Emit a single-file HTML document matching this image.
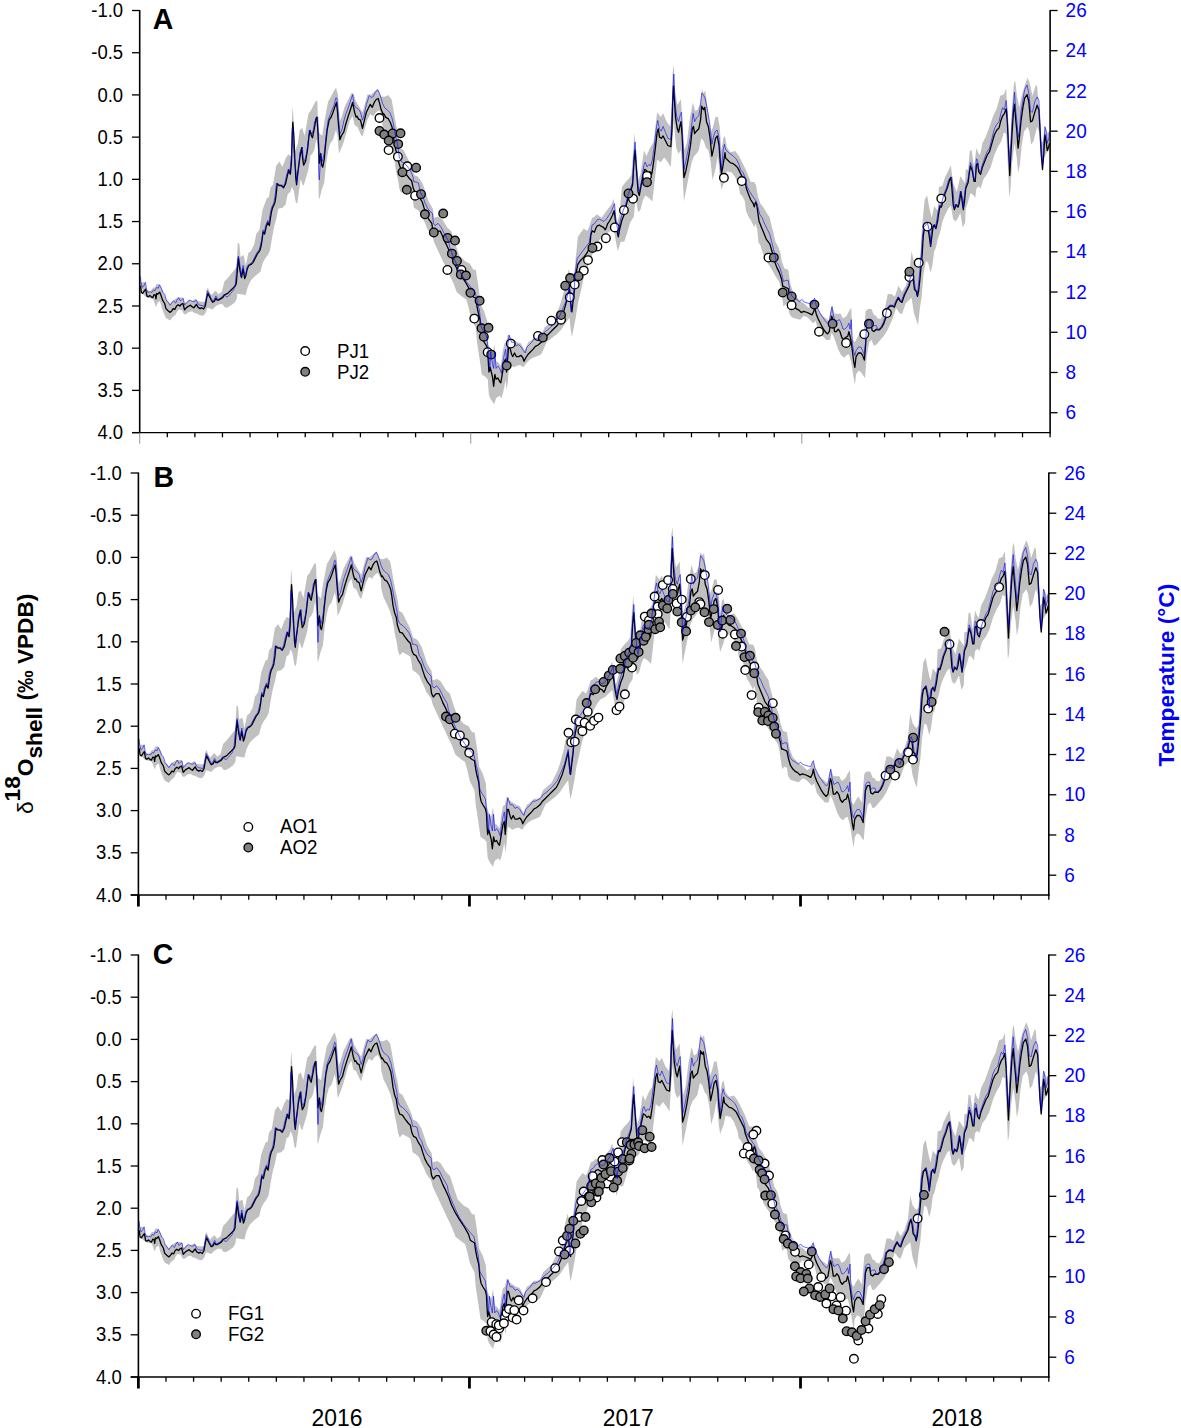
<!DOCTYPE html><html><head><meta charset="utf-8"><style>html,body{margin:0;padding:0;background:#fff;width:1181px;height:1428px;overflow:hidden}svg{display:block}text{font-family:"Liberation Sans",sans-serif}</style></head><body>
<svg width="1181" height="1428" viewBox="0 0 1181 1428">
<path d="M140.5 278.1 L141.39 282.34 L144.77 282.34 L146.47 289.11 L149.85 291.65 L153.24 287.42 L154.93 287.42 L156.63 284.03 L159.17 284.03 L161.29 287.42 L163.4 292.5 L165.94 299.27 L168.48 301.81 L170.18 304.35 L173.56 300.12 L177.8 297.58 L180.34 297.58 L182.88 297.58 L184.57 303.51 L188.8 300.12 L192.19 300.97 L195.58 298.43 L197.27 300.97 L200.66 301.81 L204.89 301.81 L206.59 289.96 L207.86 287.42 L209.97 293.34 L211.67 295.04 L214.21 291.65 L215.9 290.8 L218.44 294.19 L221.83 291.65 L224.37 281.49 L227.75 278.1 L231.14 273.87 L234.53 269.64 L236.3 267.59 L237.87 242.39 L239.45 244.49 L240.5 257.09 L243.65 254.99 L245.75 265.49 L248.37 252.89 L251 250.79 L254.15 244.49 L256.25 233.99 L259.4 229.79 L262.55 209.84 L266.75 198.29 L268.85 197.24 L270.42 187.8 L273.04 184.65 L276.19 165.75 L279.34 161.55 L282.49 166.8 L285.64 158.4 L288.27 154.2 L290.88 156.37 L292.35 106.37 L293.33 116.18 L294.8 151.47 L297.75 143.63 L299.71 129.9 L302.16 127.94 L304.61 135.78 L308.53 113.24 L310.49 111.27 L314.41 103.43 L316.37 100.49 L317.35 101.47 L318.33 130.88 L319.8 133.82 L322.25 135.78 L324.22 122.06 L328.14 101.47 L331.08 96.57 L334.02 90.69 L335.98 87.75 L337.94 94.61 L339.9 121.08 L341.86 116.18 L344.8 106.37 L347.75 100.49 L351.67 92.65 L353.63 93.63 L355.59 100.49 L359.51 107.35 L362.45 112.25 L364.41 105.39 L367.35 94.61 L371.27 94.61 L375.2 90.69 L377.65 88.73 L381.08 96.57 L384.75 96.7 L388.11 95.02 L391.47 98.95 L393.15 107.91 L394.83 117.99 L397.07 129.2 L399.31 139.28 L400.43 148.25 L403.79 150.49 L407.15 157.21 L410.52 163.93 L412.76 169.53 L414.44 175.14 L417.24 176.26 L419.48 178.5 L422.84 184.1 L425.08 190.82 L428.44 200.91 L432.92 208.75 L434.05 217.71 L438.53 216.59 L441.89 218.83 L447.49 227.8 L451.3 231.16 L453.2 237.5 L459.16 255.36 L465.11 261.31 L469.87 263.69 L473.44 269.64 L475.82 269.64 L478.2 285.12 L480.59 304.17 L484.16 311.31 L487.13 320.83 L487.73 330.36 L488.32 344.64 L490.11 350.6 L492.49 354.17 L494.28 344.64 L496.06 361.31 L498.44 362.5 L500.82 366.07 L502.61 351.79 L504.4 343.45 L506.18 342.26 L507.97 333.93 L510.35 337.5 L513.92 339.88 L517.49 342.26 L521.06 343.45 L524.63 350.6 L528.2 342.26 L531.78 339.88 L535.35 336.31 L538.92 336.31 L541.3 335.12 L544.52 327.38 L552.86 320.24 L558.81 308.33 L561.19 301.19 L564.76 288.1 L567.14 276.19 L568.93 269.05 L570.71 276.19 L574.29 272.62 L576.67 248.81 L577.86 236.9 L580.24 233.33 L583.81 228.57 L587.38 230.95 L589.76 225 L592.14 217.86 L594.52 216.67 L596.9 214.29 L601.67 217.86 L606.43 210.71 L611.19 204.76 L613.57 198.81 L615.36 214.29 L617.14 222.62 L619.52 214.29 L621.9 186.9 L625.48 182.14 L629.05 178.57 L631.43 175 L634.52 132.38 L636.31 162.14 L638.1 180 L640.48 174.05 L644.05 150.24 L646.43 156.19 L650 147.86 L653.57 141.9 L657.14 112.14 L660.71 116.9 L663.1 113.33 L666.67 121.67 L670.24 126.43 L671.43 114.52 L672.62 72.86 L673.81 64.52 L675 90.71 L677.38 105 L680.95 99.05 L683.33 138.33 L684.52 150.24 L686.9 141.9 L689.88 118.1 L692.86 102.62 L695.24 110.95 L697.62 109.76 L700.6 102.62 L701.79 89.52 L703.57 93.1 L705.36 90.71 L707.14 105 L710.71 132.38 L713.1 126.43 L715.48 116.9 L717.86 116.9 L719.64 126.43 L721.43 150.24 L723.21 138.33 L725 135.95 L726.9 147.38 L730.48 152.14 L735.24 150.95 L738.81 155.71 L742.38 162.86 L745.95 170 L748.33 175.95 L750.71 181.9 L754.29 181.9 L756.07 185.48 L757.86 196.19 L760.24 203.33 L763.81 208.1 L767.38 214.05 L769.76 217.62 L770.95 223.57 L773.33 231.9 L774.52 237.86 L775.71 242.62 L778.1 246.19 L780.48 253.33 L781.67 260.48 L784.05 267.62 L784.63 268.45 L788.2 269.64 L790.59 285.12 L794.16 294.64 L797.73 298.21 L801.3 301.79 L804.87 304.17 L808.44 307.74 L812.01 305.36 L814.4 298.21 L816.78 306.55 L819.16 311.31 L822.73 316.07 L826.3 318.45 L828.68 320.83 L831.06 308.93 L832.25 306.55 L834.63 313.69 L838.2 313.69 L840.59 313.69 L842.97 318.45 L846.54 316.07 L848.92 311.31 L851.3 307.74 L852.49 338.69 L854.87 342.26 L857.25 337.5 L859.63 333.93 L863.2 339.88 L865.59 311.31 L867.97 308.93 L871.54 308.93 L873.92 314.88 L876.3 316.07 L877.01 317.88 L880.59 319.07 L884.16 311.93 L887.73 294.07 L891.3 294.07 L894.87 296.45 L898.44 285.74 L902.01 291.69 L905.59 285.74 L909.16 275.02 L911.54 251.21 L913.92 260.74 L917.49 265.5 L919.87 263.12 L922.25 225.02 L924.63 200.02 L927.01 195.26 L929.4 208.36 L931.78 217.88 L934.16 205.98 L937.73 210.74 L938.92 186.93 L942.49 185.74 L944.87 177.4 L948.44 170.26 L950.82 165.5 L953.2 183.36 L956.78 191.69 L960.35 176.21 L962.73 179.79 L965.11 183.36 L965.71 169.52 L968.1 169.52 L969.88 150.48 L971.67 150.48 L974.05 167.14 L976.43 148.1 L978.21 152.86 L980 155.24 L982.38 143.33 L985.95 136.19 L989.52 126.67 L993.1 115.95 L996.67 108.81 L1000.24 95.71 L1003.81 94.52 L1006.19 88.57 L1007.98 131.43 L1009.76 152.86 L1012.14 105.24 L1013.93 83.81 L1015.12 80.24 L1016.9 95.71 L1019.29 107.62 L1021.67 95.71 L1025.24 83.81 L1027.62 77.86 L1030 83.81 L1032.38 95.71 L1035.95 85 L1037.14 86.19 L1038.33 101.67 L1040.71 143.33 L1043.1 140.95 L1045.48 126.67 L1047.86 133.81 L1049.3 131.43 L1049.3 148.1 L1049.05 150.48 L1046.67 152.86 L1044.29 157.62 L1042.5 169.52 L1040.71 155.24 L1038.93 131.43 L1037.14 126.67 L1033.57 140.95 L1031.19 144.52 L1029.4 131.43 L1027.62 126.67 L1024.05 131.43 L1021.67 145.71 L1019.88 164.76 L1018.1 173.1 L1016.9 158.81 L1014.52 143.33 L1012.14 162.38 L1010.36 190.95 L1009.17 196.9 L1007.98 167.14 L1006.19 133.81 L1003.81 132.62 L1001.43 140.95 L997.86 146.9 L994.29 155.24 L990.71 167.14 L987.14 174.29 L983.57 179.05 L980.6 188.57 L978.81 186.19 L976.43 188.57 L975.24 198.1 L972.86 194.52 L970.48 193.33 L968.1 201.67 L965.71 208.81 L965.11 222.64 L962.73 227.4 L960.35 213.12 L957.97 217.88 L955.59 221.45 L953.2 219.07 L950.82 205.98 L948.44 208.36 L944.87 215.5 L942.49 221.45 L940.11 232.17 L937.73 239.31 L935.94 247.64 L934.16 251.21 L932.37 265.5 L930.59 272.64 L928.2 263.12 L925.82 260.74 L923.44 275.02 L921.66 296.45 L919.87 308.36 L918.09 325.02 L916.3 320.26 L913.92 313.12 L911.54 297.64 L909.16 300.02 L905.59 303.6 L902.01 314.31 L899.63 313.12 L896.06 308.36 L892.49 319.07 L887.73 329.79 L884.16 335.5 L876.3 344.64 L873.92 345.83 L871.54 339.88 L869.16 342.26 L866.78 356.55 L864.99 377.98 L863.2 375.6 L860.82 372.02 L858.44 370.83 L856.06 374.4 L854.87 385.12 L853.09 374.4 L851.3 362.5 L848.92 354.17 L846.54 355.36 L844.16 357.74 L841.18 355.36 L838.2 349.4 L835.82 342.26 L833.44 336.31 L831.66 332.74 L829.87 339.88 L826.3 339.88 L823.92 337.5 L821.54 335.12 L817.97 330.36 L815.59 320.83 L813.2 323.21 L810.82 320.83 L807.25 317.26 L803.68 316.07 L800.11 319.64 L795.35 318.45 L791.78 317.26 L789.4 313.69 L788.2 305.36 L785.82 304.17 L783.44 306.55 L780.48 286.67 L779.29 281.9 L776.9 278.33 L774.52 274.76 L772.14 270 L769.76 266.43 L767.38 262.86 L765 259.29 L762.62 252.14 L760.24 245 L758.45 242.62 L757.26 229.52 L755.48 223.57 L754.29 227.14 L753.1 224.76 L750.71 220 L748.33 216.43 L745.95 210.48 L744.76 200.95 L742.38 196.19 L740 193.81 L738.81 186.67 L735.24 177.14 L731.67 172.38 L726.9 171.19 L725 180 L721.43 189.52 L720.24 181.19 L717.86 156.19 L715.48 169.29 L712.5 180 L710.71 162.14 L708.33 150.24 L705.95 147.86 L703.57 140.71 L701.19 138.33 L698.81 150.24 L696.43 153.81 L694.05 156.19 L691.67 162.14 L689.29 174.05 L685.71 191.9 L683.93 201.43 L682.14 168.1 L680.95 150.24 L678.57 153.81 L676.19 147.86 L673.81 120.48 L672.02 147.86 L670.83 166.9 L667.86 162.14 L664.29 157.38 L660.71 162.14 L657.14 159.76 L654.76 180 L652.38 201.43 L648.81 197.86 L645.24 195.48 L642.86 200.24 L640.48 209.76 L638.1 212.14 L635.71 197.86 L633.81 216.67 L630.24 222.62 L626.67 234.52 L624.29 241.67 L620.71 241.67 L617.74 251.19 L615.95 241.67 L613.57 227.38 L610 230.95 L606.43 234.52 L601.67 236.9 L598.1 241.67 L594.52 248.81 L590.95 258.33 L587.38 267.86 L583.81 277.38 L580.24 294.05 L577.86 303.57 L576.07 315.48 L574.29 325 L571.9 336.9 L570.71 329.76 L569.52 317.86 L565.95 322.62 L561.19 329.76 L556.43 334.52 L546.9 341.67 L541.3 354.17 L536.54 356.55 L532.97 357.74 L529.4 360.12 L525.82 363.69 L523.44 367.26 L519.87 364.88 L516.3 366.07 L513.92 367.26 L511.54 366.07 L509.16 363.69 L507.97 380.36 L506.78 389.88 L505.59 380.36 L503.2 392.26 L501.42 398.21 L499.63 395.83 L496.06 398.21 L494.28 404.17 L492.49 401.79 L490.11 398.21 L488.92 394.64 L487.73 379.17 L485.35 376.79 L481.78 374.4 L480.59 366.07 L479.4 357.74 L477.01 342.26 L475.82 327.98 L473.44 323.21 L471.06 318.45 L468.68 307.74 L466.3 299.4 L462.73 297.02 L456.78 292.26 L453.2 282.74 L449.63 275.6 L434.05 242.36 L432.36 235.64 L429.56 232.28 L427.32 228.92 L425.08 223.32 L422.84 218.83 L420.6 213.23 L417.24 209.87 L413.88 207.63 L412.76 199.79 L411.64 194.18 L408.27 191.94 L403.79 189.7 L400.99 193.06 L399.31 188.58 L398.19 180.74 L395.95 170.65 L394.83 162.81 L393.15 154.97 L391.47 149.37 L388.11 141.52 L384.75 134.8 L382.5 125.84 L382.06 116.18 L379.12 110.29 L376.18 112.25 L373.24 116.18 L370.29 114.22 L367.35 120.1 L364.41 129.9 L362.45 136.76 L360.49 133.82 L357.55 126.96 L354.61 125 L352.65 116.18 L349.71 121.08 L346.76 131.86 L343.82 141.67 L340.88 149.51 L338.92 153.43 L337.45 135.78 L335.98 129.9 L333.04 139.71 L330.1 143.63 L328.14 151.47 L326.18 163.24 L324.22 182.84 L321.76 189.71 L319.8 197.55 L318.82 199.51 L317.84 149.51 L316.37 138.73 L314.41 149.51 L312.45 153.43 L310.49 155.39 L308.53 169.12 L305.59 178.92 L303.63 185.78 L302.65 184.8 L300.69 178.92 L298.73 192.65 L297.25 203.43 L295.78 202.45 L293.82 190.69 L291.86 186.76 L290.37 191.99 L287.74 194.09 L285.64 204.59 L282.49 207.74 L278.29 208.79 L276.19 219.29 L274.09 226.64 L271.99 238.19 L269.9 250.79 L267.8 254.99 L264.65 259.19 L262.55 263.39 L260.45 271.78 L255.2 275.98 L251 280.18 L247.85 286.48 L245.75 294.88 L237.35 293.83 L236.65 299.27 L234.53 302.66 L231.14 305.2 L226.91 307.74 L224.37 306.89 L222.67 304.35 L219.29 304.35 L215.9 306.05 L212.51 309.43 L209.97 308.59 L207.43 307.74 L205.74 312.82 L203.2 315.78 L199.81 315.36 L197.27 313.67 L193.88 312.82 L192.19 311.13 L188.8 311.97 L185.42 314.51 L183.72 313.67 L182.03 310.28 L178.64 309.43 L176.95 311.97 L175.26 315.36 L172.72 317.05 L170.18 320.44 L165.94 317.9 L164.25 314.51 L161.71 307.74 L160.02 300.97 L157.48 302.66 L156.2 306.89 L154.93 304.35 L153.24 299.27 L150.7 298.43 L146.47 297.58 L143.08 294.19 L140.5 287.42Z" fill="#c0c0c0" stroke="none"/>
<path d="M140.5 285.72 L141.39 292.5 L142.66 293.34 L144.35 290.8 L145.62 289.11 L146.89 295.88 L148.16 296.73 L149.85 295.46 L151.55 297.15 L152.82 297.58 L154.09 294.61 L155.36 295.04 L155.95 298.85 L156.63 293.34 L157.9 294.19 L159.59 292.07 L160.86 295.04 L162.56 300.12 L164.67 303.51 L165.94 308.59 L168.06 310.7 L170.18 312.4 L171.87 310.7 L173.14 308.59 L174.83 309.43 L176.53 306.05 L178.22 304.78 L179.91 306.05 L181.18 304.35 L182.88 303.51 L184.57 309.86 L186.69 307.32 L188.8 306.05 L190.5 305.2 L192.19 306.89 L193.88 307.74 L196.43 304.35 L198.12 307.32 L200.24 308.59 L201.51 307.74 L203.62 309.01 L205.32 306.05 L206.59 298.43 L207.86 293.34 L209.13 295.88 L210.82 299.27 L212.51 302.24 L214.21 301.39 L215.9 298.43 L217.17 300.12 L218.44 300.12 L220.56 298.85 L222.67 297.58 L224.37 295.04 L226.06 294.19 L227.75 293.34 L229.45 291.65 L231.14 289.96 L233.26 287.84 L235.38 285.72 L236.3 283.33 L237.35 270.73 L238.4 258.14 L239.97 270.73 L241.55 277.56 L243.12 268.64 L244.7 278.61 L245.75 275.98 L247.32 268.64 L248.9 265.49 L251 264.44 L253.1 262.34 L255.2 258.14 L257.3 253.94 L259.92 250.26 L260.97 246.59 L262.02 240.29 L263.07 231.89 L264.65 233.99 L266.22 226.64 L267.8 222.44 L269.37 225.59 L270.42 218.24 L271.47 211.94 L272.52 207.74 L274.09 204.59 L275.14 201.44 L276.19 194.09 L277.24 183.6 L279.34 185.7 L281.44 185.7 L283.54 187.8 L285.64 183.6 L287.22 176.25 L288.79 169.95 L290.37 174.15 L291.37 163.24 L292.35 133.82 L292.84 122.06 L293.82 135.78 L294.8 158.33 L295.78 177.94 L296.57 184.8 L297.75 173.04 L299.71 158.33 L301.67 147.55 L302.65 158.33 L303.63 165.2 L305.59 161.27 L307.55 149.51 L309.02 135.78 L310 130.39 L311.47 135.78 L312.45 137.75 L314.41 127.94 L315.88 119.12 L316.86 117.16 L317.84 129.9 L318.82 149.51 L319.31 163.24 L320.78 153.43 L321.76 165.2 L322.75 167.16 L324.22 159.31 L325.69 143.63 L327.16 129.9 L329.12 120.1 L331.08 117.16 L333.04 112.25 L335 106.37 L336.47 102.45 L337.45 111.27 L338.43 124.02 L339.9 139.71 L341.37 135.78 L343.82 131.86 L345.78 124.02 L348.24 116.18 L350.2 110.29 L352.65 102.45 L354.61 112.25 L356.08 117.16 L357.06 116.18 L358.53 119.12 L360.49 120.1 L362.45 128.43 L364.41 120.1 L366.37 112.25 L368.33 108.33 L370.29 104.41 L372.25 107.35 L374.22 102.45 L376.18 99.51 L378.14 98.53 L379.61 103.43 L381.08 109.31 L383.04 114.22 L383.62 113.51 L385.87 117.43 L388.11 118.55 L390.35 122.47 L392.03 126.96 L393.15 133.68 L394.27 142.64 L395.95 150.49 L397.63 154.97 L398.75 162.81 L400.99 169.53 L403.79 170.65 L406.03 174.02 L409.4 178.5 L411.64 180.74 L413.32 188.58 L415 191.94 L417.24 193.06 L419.48 197.54 L422.28 202.03 L423.96 207.63 L426.2 214.35 L428.44 218.83 L431.8 223.32 L432.92 231.16 L434.61 234.52 L437.41 231.16 L440.21 231.16 L441.89 234.52 L444.13 240.12 L446.37 244.6 L449.63 251.79 L453.2 261.31 L456.78 268.45 L460.35 274.4 L465.11 281.55 L469.87 289.88 L471.66 295.83 L473.44 297.02 L475.82 298.21 L477.01 306.55 L478.2 312.5 L479.99 319.64 L480.59 325.6 L481.18 332.74 L482.37 338.69 L484.16 342.26 L486.54 345.83 L487.73 350.6 L488.32 362.5 L488.92 372.02 L490.11 367.26 L491.3 372.02 L492.49 376.79 L493.68 386.31 L494.87 374.4 L496.06 379.17 L497.85 377.98 L499.63 381.55 L500.82 382.74 L502.01 375.6 L503.2 368.45 L504.4 361.31 L505.59 358.93 L506.54 372.02 L507.37 362.5 L508.56 347.02 L509.75 347.02 L511.54 354.17 L512.73 356.55 L514.51 352.98 L516.3 356.55 L518.68 356.55 L521.06 355.36 L522.85 357.74 L524.04 361.31 L525.82 357.74 L528.2 354.17 L530.59 351.79 L532.97 349.4 L535.35 346.43 L537.73 345.24 L541.3 342.26 L543.33 339.29 L546.9 335.71 L550.48 332.14 L554.05 328.57 L557.62 325 L560 320.24 L563.57 311.9 L565.95 303.57 L568.33 294.05 L569.52 289.29 L570.71 303.57 L571.9 311.9 L573.1 301.19 L574.29 291.67 L575.48 277.38 L576.67 270.24 L577.86 264.29 L580.24 260.71 L583.81 257.14 L587.38 252.38 L589.76 246.43 L590.95 234.52 L592.14 230.95 L594.52 232.14 L595.71 228.57 L596.9 226.19 L599.29 225 L601.07 226.19 L603.45 227.38 L605.24 229.76 L606.43 227.38 L607.62 223.81 L610 220.24 L612.38 215.48 L614.17 210.71 L615.95 225 L617.74 234.52 L618.33 236.9 L619.52 229.76 L621.9 220.24 L624.29 214.29 L625.48 208.33 L627.86 198.81 L630.24 192.86 L632.62 184.52 L633.93 162.14 L635.12 150.24 L636.31 168.1 L638.1 191.9 L639.29 195.48 L641.07 185.95 L642.86 177.62 L644.64 169.29 L646.43 170.48 L648.21 172.86 L650 171.67 L651.79 174.05 L653.57 162.14 L655.36 147.86 L657.14 132.38 L658.33 128.81 L659.52 137.14 L661.31 138.33 L663.1 135.95 L665.48 140.71 L667.86 145.48 L670.83 146.67 L672.02 128.81 L672.62 102.62 L673.57 85.95 L674.4 100.24 L675.6 118.1 L677.38 128.81 L678.57 132.38 L679.76 126.43 L680.95 121.67 L682.14 135.95 L683.33 162.14 L683.93 177.62 L685.71 171.67 L688.1 159.76 L690.48 145.48 L692.26 128.81 L693.45 126.43 L694.64 133.57 L696.43 131.19 L698.81 128.81 L700.6 119.29 L701.79 106.19 L703.57 109.76 L704.76 107.38 L706.55 121.67 L708.33 126.43 L710.12 138.33 L711.9 156.19 L713.69 147.86 L715.48 138.33 L717.26 135.95 L719.05 145.48 L720.24 162.14 L721.43 174.05 L723.21 164.52 L725 152.62 L725.71 158.1 L728.1 160.48 L730.48 162.86 L732.86 163.45 L735.24 165.24 L737.62 167.62 L740 172.38 L742.38 177.14 L745.36 183.1 L746.55 189.05 L748.33 193.81 L750.71 199.76 L753.1 203.33 L754.29 206.9 L755.48 202.14 L756.67 204.52 L757.86 212.86 L759.05 221.19 L761.43 227.14 L763.81 233.1 L766.19 239.05 L769.76 243.81 L771.55 249.76 L773.33 256.9 L775.12 262.86 L776.9 267.62 L779.29 272.38 L781.67 279.52 L782.86 286.67 L783.44 286.31 L785.82 287.5 L788.2 288.69 L789.99 297.02 L791.78 302.98 L794.16 306.55 L796.54 308.93 L798.92 310.12 L801.3 312.5 L803.68 311.31 L807.25 312.5 L809.63 313.69 L812.01 314.88 L813.8 311.31 L814.63 306.55 L816.18 313.69 L817.97 318.45 L820.35 323.21 L822.73 327.98 L825.11 331.55 L827.49 333.93 L829.28 331.55 L830.47 324.4 L831.66 316.07 L832.85 319.64 L834.63 331.55 L836.42 331.55 L838.2 329.17 L839.99 331.55 L841.78 337.5 L843.56 339.88 L845.35 337.5 L847.73 336.31 L848.92 331.55 L850.11 336.31 L851.3 342.26 L852.49 351.79 L853.68 361.31 L854.87 367.26 L856.06 356.55 L858.44 352.98 L860.82 352.98 L862.61 355.36 L864.4 360.12 L865.59 344.64 L866.78 327.98 L868.56 323.21 L870.94 323.21 L872.13 330.36 L873.92 331.55 L876.3 329.17 L877.01 329.79 L879.4 329.79 L881.78 327.4 L884.16 322.64 L886.54 315.5 L887.73 308.36 L890.11 305.98 L892.49 305.98 L894.28 307.17 L896.06 302.4 L898.44 297.64 L900.23 301.21 L902.01 302.4 L904.4 295.26 L906.78 290.5 L909.16 285.74 L910.94 278.6 L912.13 275.02 L913.32 279.79 L914.51 289.31 L916.3 291.69 L917.49 296.45 L918.68 290.5 L919.87 279.79 L921.06 266.69 L922.25 253.6 L922.85 242.88 L923.44 234.55 L924.63 227.4 L927.01 223.83 L928.2 229.79 L929.4 236.93 L930.59 246.45 L931.78 236.93 L932.97 227.4 L934.16 225.02 L935.94 228.6 L937.73 220.26 L938.92 211.93 L940.11 205.98 L941.3 207.17 L943.09 201.21 L944.87 194.07 L947.25 188.12 L949.63 179.79 L950.82 177.4 L952.01 189.31 L953.2 204.79 L954.4 209.55 L956.18 204.79 L957.97 207.17 L959.16 203.6 L960.94 191.69 L962.13 201.21 L963.32 209.55 L964.51 201.21 L965.71 188.57 L968.1 182.62 L969.29 173.1 L970.48 165.95 L972.26 170.71 L974.05 181.43 L975.24 181.43 L976.43 164.76 L977.62 163.57 L978.81 171.9 L980.6 174.29 L982.38 167.14 L984.76 161.19 L987.14 155.24 L989.52 151.67 L991.9 143.33 L994.29 135 L996.67 130.24 L999.05 127.86 L1000.83 120.71 L1002.62 115.95 L1004.4 113.57 L1006.19 108.81 L1007.38 123.1 L1008.57 149.29 L1009.76 175.48 L1010.95 152.86 L1012.14 131.43 L1013.33 113.57 L1014.52 104.05 L1015.71 119.52 L1016.9 131.43 L1018.1 148.1 L1019.29 138.57 L1021.07 120.71 L1022.86 107.62 L1024.64 98.1 L1027.02 94.52 L1028.81 101.67 L1030.6 121.9 L1032.38 120.71 L1034.76 112.38 L1037.14 105.24 L1038.93 110 L1040.12 131.43 L1041.31 155.24 L1042.5 169.52 L1043.69 155.24 L1044.88 135 L1046.07 140.95 L1047.26 150.48 L1049.05 145.71 L1049.3 143.33" fill="none" stroke="#000" stroke-width="1.3" stroke-linejoin="round"/>
<circle cx="379.5" cy="118" r="4.3" fill="#fff" stroke="#000" stroke-width="1.35"/>
<circle cx="388.6" cy="150.1" r="4.3" fill="#fff" stroke="#000" stroke-width="1.35"/>
<circle cx="397.9" cy="156.7" r="4.3" fill="#fff" stroke="#000" stroke-width="1.35"/>
<circle cx="407.3" cy="166.3" r="4.3" fill="#fff" stroke="#000" stroke-width="1.35"/>
<circle cx="415.1" cy="195.7" r="4.3" fill="#fff" stroke="#000" stroke-width="1.35"/>
<circle cx="447.4" cy="269.9" r="4.3" fill="#fff" stroke="#000" stroke-width="1.35"/>
<circle cx="461.4" cy="269.9" r="4.3" fill="#fff" stroke="#000" stroke-width="1.35"/>
<circle cx="474.3" cy="318.6" r="4.3" fill="#fff" stroke="#000" stroke-width="1.35"/>
<circle cx="487.7" cy="352.2" r="4.3" fill="#fff" stroke="#000" stroke-width="1.35"/>
<circle cx="510.8" cy="343.6" r="4.3" fill="#fff" stroke="#000" stroke-width="1.35"/>
<circle cx="538" cy="335.9" r="4.3" fill="#fff" stroke="#000" stroke-width="1.35"/>
<circle cx="551.4" cy="320.7" r="4.3" fill="#fff" stroke="#000" stroke-width="1.35"/>
<circle cx="561" cy="319.7" r="4.3" fill="#fff" stroke="#000" stroke-width="1.35"/>
<circle cx="569.8" cy="297.3" r="4.3" fill="#fff" stroke="#000" stroke-width="1.35"/>
<circle cx="574.7" cy="284.6" r="4.3" fill="#fff" stroke="#000" stroke-width="1.35"/>
<circle cx="583.8" cy="270.6" r="4.3" fill="#fff" stroke="#000" stroke-width="1.35"/>
<circle cx="588" cy="260.1" r="4.3" fill="#fff" stroke="#000" stroke-width="1.35"/>
<circle cx="597.4" cy="246.5" r="4.3" fill="#fff" stroke="#000" stroke-width="1.35"/>
<circle cx="605.9" cy="238.2" r="4.3" fill="#fff" stroke="#000" stroke-width="1.35"/>
<circle cx="614.8" cy="227.4" r="4.3" fill="#fff" stroke="#000" stroke-width="1.35"/>
<circle cx="623.9" cy="210.2" r="4.3" fill="#fff" stroke="#000" stroke-width="1.35"/>
<circle cx="633" cy="198.7" r="4.3" fill="#fff" stroke="#000" stroke-width="1.35"/>
<circle cx="647" cy="175.9" r="4.3" fill="#fff" stroke="#000" stroke-width="1.35"/>
<circle cx="723.9" cy="177.8" r="4.3" fill="#fff" stroke="#000" stroke-width="1.35"/>
<circle cx="741.8" cy="181" r="4.3" fill="#fff" stroke="#000" stroke-width="1.35"/>
<circle cx="768.5" cy="257.6" r="4.3" fill="#fff" stroke="#000" stroke-width="1.35"/>
<circle cx="791.6" cy="305.2" r="4.3" fill="#fff" stroke="#000" stroke-width="1.35"/>
<circle cx="819" cy="331.7" r="4.3" fill="#fff" stroke="#000" stroke-width="1.35"/>
<circle cx="846.1" cy="342.9" r="4.3" fill="#fff" stroke="#000" stroke-width="1.35"/>
<circle cx="864.3" cy="334.2" r="4.3" fill="#fff" stroke="#000" stroke-width="1.35"/>
<circle cx="886.9" cy="313" r="4.3" fill="#fff" stroke="#000" stroke-width="1.35"/>
<circle cx="909.4" cy="277.1" r="4.3" fill="#fff" stroke="#000" stroke-width="1.35"/>
<circle cx="918.7" cy="262.8" r="4.3" fill="#fff" stroke="#000" stroke-width="1.35"/>
<circle cx="927.5" cy="226.6" r="4.3" fill="#fff" stroke="#000" stroke-width="1.35"/>
<circle cx="941.3" cy="198.6" r="4.3" fill="#fff" stroke="#000" stroke-width="1.35"/>
<circle cx="379.5" cy="130.9" r="4.3" fill="#808080" stroke="#000" stroke-width="1.35"/>
<circle cx="384.2" cy="134.5" r="4.3" fill="#808080" stroke="#000" stroke-width="1.35"/>
<circle cx="392.6" cy="133.4" r="4.3" fill="#808080" stroke="#000" stroke-width="1.35"/>
<circle cx="400.5" cy="133.3" r="4.3" fill="#808080" stroke="#000" stroke-width="1.35"/>
<circle cx="388.7" cy="140.5" r="4.3" fill="#808080" stroke="#000" stroke-width="1.35"/>
<circle cx="398.2" cy="144.1" r="4.3" fill="#808080" stroke="#000" stroke-width="1.35"/>
<circle cx="416.1" cy="167.7" r="4.3" fill="#808080" stroke="#000" stroke-width="1.35"/>
<circle cx="402.4" cy="172.2" r="4.3" fill="#808080" stroke="#000" stroke-width="1.35"/>
<circle cx="406.8" cy="189.8" r="4.3" fill="#808080" stroke="#000" stroke-width="1.35"/>
<circle cx="421" cy="194.2" r="4.3" fill="#808080" stroke="#000" stroke-width="1.35"/>
<circle cx="424.9" cy="214.3" r="4.3" fill="#808080" stroke="#000" stroke-width="1.35"/>
<circle cx="443.2" cy="213.5" r="4.3" fill="#808080" stroke="#000" stroke-width="1.35"/>
<circle cx="433.8" cy="232.4" r="4.3" fill="#808080" stroke="#000" stroke-width="1.35"/>
<circle cx="447.6" cy="237.9" r="4.3" fill="#808080" stroke="#000" stroke-width="1.35"/>
<circle cx="455" cy="240.5" r="4.3" fill="#808080" stroke="#000" stroke-width="1.35"/>
<circle cx="451.9" cy="253.6" r="4.3" fill="#808080" stroke="#000" stroke-width="1.35"/>
<circle cx="456.9" cy="260.9" r="4.3" fill="#808080" stroke="#000" stroke-width="1.35"/>
<circle cx="460.8" cy="274.4" r="4.3" fill="#808080" stroke="#000" stroke-width="1.35"/>
<circle cx="465.9" cy="275.5" r="4.3" fill="#808080" stroke="#000" stroke-width="1.35"/>
<circle cx="470.4" cy="292.8" r="4.3" fill="#808080" stroke="#000" stroke-width="1.35"/>
<circle cx="479.6" cy="300.8" r="4.3" fill="#808080" stroke="#000" stroke-width="1.35"/>
<circle cx="481.5" cy="328.3" r="4.3" fill="#808080" stroke="#000" stroke-width="1.35"/>
<circle cx="488.5" cy="327.8" r="4.3" fill="#808080" stroke="#000" stroke-width="1.35"/>
<circle cx="483.8" cy="336.7" r="4.3" fill="#808080" stroke="#000" stroke-width="1.35"/>
<circle cx="491.2" cy="354.6" r="4.3" fill="#808080" stroke="#000" stroke-width="1.35"/>
<circle cx="506.7" cy="365.6" r="4.3" fill="#808080" stroke="#000" stroke-width="1.35"/>
<circle cx="542.8" cy="337.6" r="4.3" fill="#808080" stroke="#000" stroke-width="1.35"/>
<circle cx="561" cy="315.1" r="4.3" fill="#808080" stroke="#000" stroke-width="1.35"/>
<circle cx="565.2" cy="285.7" r="4.3" fill="#808080" stroke="#000" stroke-width="1.35"/>
<circle cx="570.1" cy="278" r="4.3" fill="#808080" stroke="#000" stroke-width="1.35"/>
<circle cx="578.5" cy="276.2" r="4.3" fill="#808080" stroke="#000" stroke-width="1.35"/>
<circle cx="592.5" cy="247.9" r="4.3" fill="#808080" stroke="#000" stroke-width="1.35"/>
<circle cx="628.5" cy="193.4" r="4.3" fill="#808080" stroke="#000" stroke-width="1.35"/>
<circle cx="647" cy="182.2" r="4.3" fill="#808080" stroke="#000" stroke-width="1.35"/>
<circle cx="773.8" cy="257.6" r="4.3" fill="#808080" stroke="#000" stroke-width="1.35"/>
<circle cx="782.7" cy="292.6" r="4.3" fill="#808080" stroke="#000" stroke-width="1.35"/>
<circle cx="791.7" cy="296.4" r="4.3" fill="#808080" stroke="#000" stroke-width="1.35"/>
<circle cx="814.4" cy="304.6" r="4.3" fill="#808080" stroke="#000" stroke-width="1.35"/>
<circle cx="832.6" cy="323.7" r="4.3" fill="#808080" stroke="#000" stroke-width="1.35"/>
<circle cx="869" cy="323.8" r="4.3" fill="#808080" stroke="#000" stroke-width="1.35"/>
<circle cx="909.4" cy="271.7" r="4.3" fill="#808080" stroke="#000" stroke-width="1.35"/>
<path d="M140.5 276.41 L140.96 282.34 L142.23 287.42 L143.93 285.72 L145.45 282.34 L146.47 289.11 L147.74 292.5 L149.85 291.65 L151.97 292.5 L153.66 289.96 L154.93 290.8 L156.63 287.42 L158.32 288.26 L159.59 284.88 L161.29 288.26 L162.98 292.5 L164.67 294.19 L166.37 300.12 L168.48 302.66 L170.18 305.2 L172.29 301.81 L173.56 300.97 L175.68 303.08 L176.95 300.12 L178.64 297.58 L180.34 300.97 L181.61 299.7 L183.3 298.43 L184.57 305.2 L186.26 303.08 L188.38 300.97 L190.07 300.12 L192.19 301.39 L193.88 301.81 L196.43 300.12 L197.7 303.51 L199.81 305.2 L202.35 305.62 L204.12 306.32 L206.16 299.27 L207.43 290.8 L209.13 293.34 L210.82 297.58 L213.05 301.52 L213.41 300.97 L215.9 295.88 L217.87 299.56 L219.19 298.72 L220.44 297.87 L222.08 296.9 L224.15 294.16 L226.06 296.73 L227.75 296.73 L229.45 295.04 L231.14 292.92 L233.68 289.96 L235.41 283.17 L236.45 270.66 L238.4 256.04 L240.86 270.59 L240.83 277.02 L243.12 265.49 L244.7 275.98 L245.75 273.88 L247.32 266.54 L248.26 264.85 L250.46 263.72 L252.37 261.81 L254.4 257.71 L256.52 253.47 L259.12 249.86 L260.09 246.42 L262.02 238.19 L263.07 229.79 L264.65 231.89 L265.35 226.4 L267.8 220.34 L269.37 223.49 L269.53 218.09 L270.59 211.77 L271.67 207.44 L273.26 204.25 L274.26 201.27 L275.3 193.99 L276.4 183.28 L279.82 184.93 L281.92 184.93 L283.14 186.99 L284.78 183.33 L286.34 176.05 L288.29 169.2 L289.49 173.93 L291.37 158.33 L292.35 127.94 L293.33 143.63 L294.8 163.24 L296.68 177.86 L296.57 182.84 L298.73 168.14 L299.79 152.82 L302.47 147.15 L303.14 158.33 L304.61 161.27 L306.57 153.43 L308.53 138.73 L309.26 129.88 L311.96 133.82 L313.43 129.9 L314.52 121.84 L317.75 116.99 L318.33 137.75 L318.82 173.04 L319.31 179.9 L320.78 155.39 L322.25 161.27 L324.22 153.43 L326.18 135.78 L328.14 120.1 L331.08 112.25 L334.02 105.39 L335.98 97.55 L336.96 98.53 L338.43 117.16 L339.9 133.82 L341.86 129.9 L343.82 121.08 L345.78 114.22 L348.73 106.37 L352.65 94.61 L354.12 104.41 L355.59 107.35 L357.06 108.33 L358.53 109.31 L360.49 112.25 L362.45 120.1 L364.41 114.22 L366.37 104.41 L369.31 95.59 L371.27 97.55 L373.24 96.57 L375.2 92.65 L377.65 89.71 L379.61 93.63 L382.06 101.47 L382.5 103.43 L384.75 107.91 L386.99 109.59 L389.79 112.39 L392.03 117.99 L393.71 125.84 L394.83 132.56 L396.51 140.4 L398.19 148.25 L399.31 157.21 L401.55 161.69 L403.79 162.81 L407.15 166.17 L410.52 170.65 L412.76 176.26 L413.88 181.86 L416.12 181.86 L418.36 182.98 L420.6 193.06 L422.84 196.42 L425.08 203.15 L427.32 207.63 L429.56 210.99 L432.36 213.23 L433.48 223.32 L435.17 225.56 L437.97 223.32 L440.77 226.68 L444.13 233.4 L448.61 241.24 L449.63 247.02 L453.2 256.55 L456.78 264.88 L461.14 273.98 L465.83 281.01 L471.06 287.5 L475.23 292.26 L477.01 300.6 L479.4 310.12 L481.18 326.79 L482.97 330.36 L486.54 336.31 L488.32 350.6 L489.92 368.84 L490.7 351.79 L492.49 363.69 L493.68 368.45 L494.87 351.79 L496.06 368.45 L497.85 366.07 L499.63 368.45 L501.42 373.21 L502.61 363.69 L504.4 354.17 L505.59 349.4 L506.78 362.5 L507.97 343.45 L509.16 335.12 L511.54 342.26 L513.92 342.26 L516.3 345.83 L518.68 344.64 L521.06 347.02 L523.44 350.6 L525.23 352.98 L527.01 347.02 L529.4 344.64 L531.78 342.26 L534.16 338.69 L536.54 338.69 L538.92 337.5 L541.3 336.31 L544.52 332.14 L549.29 328.57 L554.05 323.81 L558.81 317.86 L562.38 309.52 L565.95 301.19 L568.33 291.67 L569.52 286.9 L570.71 305.95 L571.03 311.69 L573.1 296.43 L574.29 288.1 L575.18 273.72 L577.26 258.33 L579.05 255.95 L582.62 251.19 L586.19 246.43 L589.17 242.86 L590.95 232.14 L592.14 225 L594.52 223.81 L596.9 220.24 L599.29 219.05 L601.67 220.24 L604.05 221.43 L606.43 219.05 L608.81 215.48 L611.19 211.9 L613.57 205.95 L614.52 203.57 L615.95 220.24 L618.57 234.18 L618.93 227.38 L620.71 219.05 L623.1 210.71 L625.48 204.76 L627.86 195.24 L630.24 189.29 L632.62 182.14 L633.93 156.19 L635.12 141.9 L636.31 162.14 L638.1 185.95 L639.29 191.9 L641.67 180 L644.05 164.52 L645.24 162.14 L647.02 166.9 L648.81 164.52 L650.6 165.71 L652.38 159.76 L654.76 141.9 L656.55 126.43 L657.74 120.48 L659.52 128.81 L661.31 131.19 L663.1 126.43 L665.48 132.38 L667.86 138.33 L670.83 139.52 L672.02 114.52 L673.21 84.76 L673.81 74.05 L675 102.62 L676.79 116.9 L678.57 121.67 L680.36 114.52 L681.55 112.14 L682.74 138.33 L683.93 169.29 L685.71 162.14 L688.1 150.24 L690.48 135.95 L692.26 120.48 L693.1 113.33 L694.64 121.67 L696.43 118.1 L698.81 115.71 L700 108.57 L701.79 93.1 L703.57 95.48 L705 97.86 L707.14 108.57 L709.52 121.67 L711.9 144.29 L713.69 135.95 L715.48 131.19 L717.26 130 L719.05 138.33 L720.24 156.19 L721.43 169.29 L723.21 150.24 L724.4 144.29 L725.71 149.76 L729.29 153.33 L732.86 155.71 L736.43 159.29 L738.81 164.05 L740.6 170 L742.98 172.38 L745.36 178.33 L747.14 186.67 L749.52 191.43 L751.9 195 L754.29 198.57 L756.07 200.95 L757.86 206.9 L759.64 214.05 L762.02 217.62 L765 224.76 L767.38 229.52 L769.76 234.29 L771.55 241.43 L773.33 248.57 L775.12 255.71 L776.31 261.67 L778.1 264.05 L779.88 267.62 L781.67 273.57 L783.44 281.55 L785.82 280.36 L788.2 280.36 L789.99 291.07 L791.78 295.83 L794.16 298.21 L796.54 299.4 L799.51 301.79 L801.9 299.4 L803.68 301.79 L807.25 302.98 L809.63 303.57 L812.01 304.17 L813.8 299.4 L814.63 298.21 L816.18 305.36 L817.97 308.93 L820.35 313.69 L822.73 317.26 L825.11 320.83 L827.49 323.21 L829.28 322.02 L831.06 311.31 L832.01 306.55 L833.44 316.07 L835.23 322.02 L837.01 320.83 L839.4 319.64 L841.18 323.21 L842.97 329.17 L844.75 329.17 L847.13 326.79 L848.92 323.21 L850.11 329.17 L851.3 319.64 L851.9 335.12 L852.49 344.64 L853.68 351.79 L854.87 355.36 L856.06 350.6 L858.44 347.02 L860.82 347.02 L862.61 350.6 L864.4 355.36 L865.59 342.26 L866.78 322.02 L868.56 319.64 L870.94 319.64 L872.13 326.79 L873.92 325.6 L876.3 325.6 L877.66 329.16 L878.99 328.98 L881.03 326.91 L883.32 322.31 L885.66 315.28 L886.89 308.04 L889.71 305.17 L892.74 305.11 L893.64 306.53 L895.24 302.04 L898.2 296.78 L900.95 300.67 L901.28 301.89 L903.56 294.93 L905.97 290.1 L908.31 285.44 L910.08 278.35 L912.54 274.22 L914.21 279.64 L915.39 289.09 L917.13 291.34 L917.09 295.65 L917.79 290.37 L918.98 279.7 L920.17 266.61 L921.35 253.53 L921.95 242.82 L922.55 234.44 L923.78 227.12 L927.51 223.08 L929.09 229.62 L930.29 236.8 L930.59 245.55 L930.88 236.82 L932.08 227.23 L934.49 224.19 L935.22 228.06 L936.84 220.1 L938.03 211.78 L939.3 205.57 L940.54 206.69 L942.22 200.98 L944.01 193.8 L946.4 187.83 L948.78 179.5 L951.7 177.19 L952.91 189.23 L954.1 204.68 L954.4 208.65 L955.68 204.04 L957.63 206.33 L958.27 203.43 L960.38 190.99 L963.03 201.1 L963.32 208.65 L963.62 201.12 L965.71 186.19 L968.1 179.05 L969.29 170.71 L970.48 162.38 L972.26 167.14 L974.05 179.05 L975.24 179.05 L976.43 158.81 L977.62 160 L978.81 169.52 L980.6 171.9 L982.38 164.76 L984.76 157.62 L987.14 151.67 L989.52 148.1 L991.9 138.57 L994.29 129.05 L996.67 124.29 L999.05 121.9 L1000.83 113.57 L1002.62 107.62 L1004.4 110 L1006.19 100.48 L1007.38 113.57 L1008.57 143.33 L1009.76 164.76 L1010.95 143.33 L1012.14 119.52 L1013.33 105.24 L1014.52 92.14 L1015.71 110 L1016.9 121.9 L1018.1 137.38 L1019.29 131.43 L1021.07 111.19 L1022.86 100.48 L1024.64 89.76 L1027.02 85 L1028.81 93.33 L1030.6 111.19 L1032.38 112.38 L1034.76 101.67 L1037.14 96.9 L1038.93 100.48 L1040.12 126.67 L1041.31 150.48 L1042.5 164.76 L1043.69 143.33 L1044.88 126.67 L1046.07 131.43 L1047.26 143.33 L1049.05 137.38 L1049.3 131.43" fill="none" stroke="#0000ff" stroke-width="0.6" stroke-linejoin="round"/>
<path d="M139.7 9.9 V432.6" stroke="#000" stroke-width="1.6"/>
<path d="M1050.1 9.9 V433.2" stroke="#000" stroke-width="1.6"/>
<path d="M132 432.6 H1050.9" stroke="#000" stroke-width="1.4"/>
<path d="M132 10.5 H139.7" stroke="#000" stroke-width="1.3"/>
<text transform="translate(123.1 17.1) scale(1 1.06)" font-size="18.5" text-anchor="end">-1.0</text>
<path d="M132 52.71 H139.7" stroke="#000" stroke-width="1.3"/>
<text transform="translate(123.1 59.31) scale(1 1.06)" font-size="18.5" text-anchor="end">-0.5</text>
<path d="M132 94.92 H139.7" stroke="#000" stroke-width="1.3"/>
<text transform="translate(123.1 101.52) scale(1 1.06)" font-size="18.5" text-anchor="end">0.0</text>
<path d="M132 137.13 H139.7" stroke="#000" stroke-width="1.3"/>
<text transform="translate(123.1 143.73) scale(1 1.06)" font-size="18.5" text-anchor="end">0.5</text>
<path d="M132 179.34 H139.7" stroke="#000" stroke-width="1.3"/>
<text transform="translate(123.1 185.94) scale(1 1.06)" font-size="18.5" text-anchor="end">1.0</text>
<path d="M132 221.55 H139.7" stroke="#000" stroke-width="1.3"/>
<text transform="translate(123.1 228.15) scale(1 1.06)" font-size="18.5" text-anchor="end">1.5</text>
<path d="M132 263.76 H139.7" stroke="#000" stroke-width="1.3"/>
<text transform="translate(123.1 270.36) scale(1 1.06)" font-size="18.5" text-anchor="end">2.0</text>
<path d="M132 305.97 H139.7" stroke="#000" stroke-width="1.3"/>
<text transform="translate(123.1 312.57) scale(1 1.06)" font-size="18.5" text-anchor="end">2.5</text>
<path d="M132 348.18 H139.7" stroke="#000" stroke-width="1.3"/>
<text transform="translate(123.1 354.78) scale(1 1.06)" font-size="18.5" text-anchor="end">3.0</text>
<path d="M132 390.39 H139.7" stroke="#000" stroke-width="1.3"/>
<text transform="translate(123.1 396.99) scale(1 1.06)" font-size="18.5" text-anchor="end">3.5</text>
<path d="M132 432.6 H139.7" stroke="#000" stroke-width="1.3"/>
<text transform="translate(123.1 439.2) scale(1 1.06)" font-size="18.5" text-anchor="end">4.0</text>
<path d="M1050.1 10.5 H1057.6" stroke="#000" stroke-width="1.3"/>
<text transform="translate(1065.6 17.1) scale(1 1.05)" font-size="19" fill="#0000ff">26</text>
<path d="M1050.1 50.72 H1057.6" stroke="#000" stroke-width="1.3"/>
<text transform="translate(1065.6 57.32) scale(1 1.05)" font-size="19" fill="#0000ff">24</text>
<path d="M1050.1 90.94 H1057.6" stroke="#000" stroke-width="1.3"/>
<text transform="translate(1065.6 97.54) scale(1 1.05)" font-size="19" fill="#0000ff">22</text>
<path d="M1050.1 131.16 H1057.6" stroke="#000" stroke-width="1.3"/>
<text transform="translate(1065.6 137.76) scale(1 1.05)" font-size="19" fill="#0000ff">20</text>
<path d="M1050.1 171.38 H1057.6" stroke="#000" stroke-width="1.3"/>
<text transform="translate(1065.6 177.98) scale(1 1.05)" font-size="19" fill="#0000ff">18</text>
<path d="M1050.1 211.6 H1057.6" stroke="#000" stroke-width="1.3"/>
<text transform="translate(1065.6 218.2) scale(1 1.05)" font-size="19" fill="#0000ff">16</text>
<path d="M1050.1 251.82 H1057.6" stroke="#000" stroke-width="1.3"/>
<text transform="translate(1065.6 258.42) scale(1 1.05)" font-size="19" fill="#0000ff">14</text>
<path d="M1050.1 292.04 H1057.6" stroke="#000" stroke-width="1.3"/>
<text transform="translate(1065.6 298.64) scale(1 1.05)" font-size="19" fill="#0000ff">12</text>
<path d="M1050.1 332.26 H1057.6" stroke="#000" stroke-width="1.3"/>
<text transform="translate(1065.6 338.86) scale(1 1.05)" font-size="19" fill="#0000ff">10</text>
<path d="M1050.1 372.48 H1057.6" stroke="#000" stroke-width="1.3"/>
<text transform="translate(1065.6 379.08) scale(1 1.05)" font-size="19" fill="#0000ff">8</text>
<path d="M1050.1 412.7 H1057.6" stroke="#000" stroke-width="1.3"/>
<text transform="translate(1065.6 419.3) scale(1 1.05)" font-size="19" fill="#0000ff">6</text>
<path d="M139.7 432.6 V443.6" stroke="#777" stroke-width="0.8"/>
<path d="M167.29 432.6 V437.3" stroke="#000" stroke-width="1.3"/>
<path d="M194.88 432.6 V437.3" stroke="#000" stroke-width="1.3"/>
<path d="M222.46 432.6 V437.3" stroke="#000" stroke-width="1.3"/>
<path d="M250.05 432.6 V437.3" stroke="#000" stroke-width="1.3"/>
<path d="M277.64 432.6 V437.3" stroke="#000" stroke-width="1.3"/>
<path d="M305.23 432.6 V437.3" stroke="#000" stroke-width="1.3"/>
<path d="M332.82 432.6 V437.3" stroke="#000" stroke-width="1.3"/>
<path d="M360.4 432.6 V437.3" stroke="#000" stroke-width="1.3"/>
<path d="M387.99 432.6 V437.3" stroke="#000" stroke-width="1.3"/>
<path d="M415.58 432.6 V437.3" stroke="#000" stroke-width="1.3"/>
<path d="M443.17 432.6 V437.3" stroke="#000" stroke-width="1.3"/>
<path d="M470.75 432.6 V443.6" stroke="#777" stroke-width="0.8"/>
<path d="M498.34 432.6 V437.3" stroke="#000" stroke-width="1.3"/>
<path d="M525.93 432.6 V437.3" stroke="#000" stroke-width="1.3"/>
<path d="M553.52 432.6 V437.3" stroke="#000" stroke-width="1.3"/>
<path d="M581.11 432.6 V437.3" stroke="#000" stroke-width="1.3"/>
<path d="M608.69 432.6 V437.3" stroke="#000" stroke-width="1.3"/>
<path d="M636.28 432.6 V437.3" stroke="#000" stroke-width="1.3"/>
<path d="M663.87 432.6 V437.3" stroke="#000" stroke-width="1.3"/>
<path d="M691.46 432.6 V437.3" stroke="#000" stroke-width="1.3"/>
<path d="M719.05 432.6 V437.3" stroke="#000" stroke-width="1.3"/>
<path d="M746.63 432.6 V437.3" stroke="#000" stroke-width="1.3"/>
<path d="M774.22 432.6 V437.3" stroke="#000" stroke-width="1.3"/>
<path d="M801.81 432.6 V443.6" stroke="#777" stroke-width="0.8"/>
<path d="M829.4 432.6 V437.3" stroke="#000" stroke-width="1.3"/>
<path d="M856.98 432.6 V437.3" stroke="#000" stroke-width="1.3"/>
<path d="M884.57 432.6 V437.3" stroke="#000" stroke-width="1.3"/>
<path d="M912.16 432.6 V437.3" stroke="#000" stroke-width="1.3"/>
<path d="M939.75 432.6 V437.3" stroke="#000" stroke-width="1.3"/>
<path d="M967.34 432.6 V437.3" stroke="#000" stroke-width="1.3"/>
<path d="M994.92 432.6 V437.3" stroke="#000" stroke-width="1.3"/>
<path d="M1022.51 432.6 V437.3" stroke="#000" stroke-width="1.3"/>
<path d="M1050.1 432.6 V437.3" stroke="#000" stroke-width="1.3"/>
<path d="M139.2 740.6 L140.09 744.84 L143.47 744.84 L145.17 751.61 L148.55 754.15 L151.94 749.92 L153.63 749.92 L155.33 746.53 L157.87 746.53 L159.99 749.92 L162.1 755 L164.64 761.77 L167.18 764.31 L168.88 766.85 L172.26 762.62 L176.5 760.08 L179.04 760.08 L181.58 760.08 L183.27 766.01 L187.5 762.62 L190.89 763.47 L194.28 760.93 L195.97 763.47 L199.36 764.31 L203.59 764.31 L205.29 752.46 L206.56 749.92 L208.67 755.84 L210.37 757.54 L212.91 754.15 L214.6 753.3 L217.14 756.69 L220.53 754.15 L223.07 743.99 L226.45 740.6 L229.84 736.37 L233.23 732.14 L235 730.09 L236.57 704.89 L238.15 706.99 L239.2 719.59 L242.35 717.49 L244.45 727.99 L247.07 715.39 L249.7 713.29 L252.85 706.99 L254.95 696.49 L258.1 692.29 L261.25 672.34 L265.45 660.79 L267.55 659.74 L269.12 650.3 L271.74 647.15 L274.89 628.25 L278.04 624.05 L281.19 629.3 L284.34 620.9 L286.97 616.7 L289.58 618.87 L291.05 568.87 L292.03 578.68 L293.5 613.97 L296.45 606.13 L298.41 592.4 L300.86 590.44 L303.31 598.28 L307.23 575.74 L309.19 573.77 L313.11 565.93 L315.07 562.99 L316.05 563.97 L317.03 593.38 L318.5 596.32 L320.95 598.28 L322.92 584.56 L326.84 563.97 L329.78 559.07 L332.72 553.19 L334.68 550.25 L336.64 557.11 L338.6 583.58 L340.56 578.68 L343.5 568.87 L346.45 562.99 L350.37 555.15 L352.33 556.13 L354.29 562.99 L358.21 569.85 L361.15 574.75 L363.11 567.89 L366.05 557.11 L369.97 557.11 L373.9 553.19 L376.35 551.23 L379.78 559.07 L383.45 559.2 L386.81 557.52 L390.17 561.45 L391.85 570.41 L393.53 580.49 L395.77 591.7 L398.01 601.78 L399.13 610.75 L402.49 612.99 L405.85 619.71 L409.22 626.43 L411.46 632.03 L413.14 637.64 L415.94 638.76 L418.18 641 L421.54 646.6 L423.78 653.32 L427.14 663.41 L431.62 671.25 L432.75 680.21 L437.23 679.09 L440.59 681.33 L446.19 690.3 L450 693.66 L451.9 700 L457.86 717.86 L463.81 723.81 L468.57 726.19 L472.14 732.14 L474.52 732.14 L476.9 747.62 L479.29 766.67 L482.86 773.81 L485.83 783.33 L486.43 792.86 L487.02 807.14 L488.81 813.1 L491.19 816.67 L492.98 807.14 L494.76 823.81 L497.14 825 L499.52 828.57 L501.31 814.29 L503.1 805.95 L504.88 804.76 L506.67 796.43 L509.05 800 L512.62 802.38 L516.19 804.76 L519.76 805.95 L523.33 813.1 L526.9 804.76 L530.48 802.38 L534.05 798.81 L537.62 798.81 L540 797.62 L543.22 789.88 L551.56 782.74 L557.51 770.83 L559.89 763.69 L563.46 750.6 L565.84 738.69 L567.63 731.55 L569.41 738.69 L572.99 735.12 L575.37 711.31 L576.56 699.4 L578.94 695.83 L582.51 691.07 L586.08 693.45 L588.46 687.5 L590.84 680.36 L593.22 679.17 L595.6 676.79 L600.37 680.36 L605.13 673.21 L609.89 667.26 L612.27 661.31 L614.06 676.79 L615.84 685.12 L618.22 676.79 L620.6 649.4 L624.18 644.64 L627.75 641.07 L630.13 637.5 L633.22 594.88 L635.01 624.64 L636.8 642.5 L639.18 636.55 L642.75 612.74 L645.13 618.69 L648.7 610.36 L652.27 604.4 L655.84 574.64 L659.41 579.4 L661.8 575.83 L665.37 584.17 L668.94 588.93 L670.13 577.02 L671.32 535.36 L672.51 527.02 L673.7 553.21 L676.08 567.5 L679.65 561.55 L682.03 600.83 L683.22 612.74 L685.6 604.4 L688.58 580.6 L691.56 565.12 L693.94 573.45 L696.32 572.26 L699.3 565.12 L700.49 552.02 L702.27 555.6 L704.06 553.21 L705.84 567.5 L709.41 594.88 L711.8 588.93 L714.18 579.4 L716.56 579.4 L718.34 588.93 L720.13 612.74 L721.91 600.83 L723.7 598.45 L725.6 609.88 L729.18 614.64 L733.94 613.45 L737.51 618.21 L741.08 625.36 L744.65 632.5 L747.03 638.45 L749.41 644.4 L752.99 644.4 L754.77 647.98 L756.56 658.69 L758.94 665.83 L762.51 670.6 L766.08 676.55 L768.46 680.12 L769.65 686.07 L772.03 694.4 L773.22 700.36 L774.41 705.12 L776.8 708.69 L779.18 715.83 L780.37 722.98 L782.75 730.12 L783.33 730.95 L786.9 732.14 L789.29 747.62 L792.86 757.14 L796.43 760.71 L800 764.29 L803.57 766.67 L807.14 770.24 L810.71 767.86 L813.1 760.71 L815.48 769.05 L817.86 773.81 L821.43 778.57 L825 780.95 L827.38 783.33 L829.76 771.43 L830.95 769.05 L833.33 776.19 L836.9 776.19 L839.29 776.19 L841.67 780.95 L845.24 778.57 L847.62 773.81 L850 770.24 L851.19 801.19 L853.57 804.76 L855.95 800 L858.33 796.43 L861.9 802.38 L864.29 773.81 L866.67 771.43 L870.24 771.43 L872.62 777.38 L875 778.57 L875.71 780.38 L879.29 781.57 L882.86 774.43 L886.43 756.57 L890 756.57 L893.57 758.95 L897.14 748.24 L900.71 754.19 L904.29 748.24 L907.86 737.52 L910.24 713.71 L912.62 723.24 L916.19 728 L918.57 725.62 L920.95 687.52 L923.33 662.52 L925.71 657.76 L928.1 670.86 L930.48 680.38 L932.86 668.48 L936.43 673.24 L937.62 649.43 L941.19 648.24 L943.57 639.9 L947.14 632.76 L949.52 628 L951.9 645.86 L955.48 654.19 L959.05 638.71 L961.43 642.29 L963.81 645.86 L964.41 632.02 L966.8 632.02 L968.58 612.98 L970.37 612.98 L972.75 629.64 L975.13 610.6 L976.91 615.36 L978.7 617.74 L981.08 605.83 L984.65 598.69 L988.22 589.17 L991.8 578.45 L995.37 571.31 L998.94 558.21 L1002.51 557.02 L1004.89 551.07 L1006.68 593.93 L1008.46 615.36 L1010.84 567.74 L1012.63 546.31 L1013.82 542.74 L1015.6 558.21 L1017.99 570.12 L1020.37 558.21 L1023.94 546.31 L1026.32 540.36 L1028.7 546.31 L1031.08 558.21 L1034.65 547.5 L1035.84 548.69 L1037.03 564.17 L1039.41 605.83 L1041.8 603.45 L1044.18 589.17 L1046.56 596.31 L1048 593.93 L1048 610.6 L1047.75 612.98 L1045.37 615.36 L1042.99 620.12 L1041.2 632.02 L1039.41 617.74 L1037.63 593.93 L1035.84 589.17 L1032.27 603.45 L1029.89 607.02 L1028.1 593.93 L1026.32 589.17 L1022.75 593.93 L1020.37 608.21 L1018.58 627.26 L1016.8 635.6 L1015.6 621.31 L1013.22 605.83 L1010.84 624.88 L1009.06 653.45 L1007.87 659.4 L1006.68 629.64 L1004.89 596.31 L1002.51 595.12 L1000.13 603.45 L996.56 609.4 L992.99 617.74 L989.41 629.64 L985.84 636.79 L982.27 641.55 L979.3 651.07 L977.51 648.69 L975.13 651.07 L973.94 660.6 L971.56 657.02 L969.18 655.83 L966.8 664.17 L964.41 671.31 L963.81 685.14 L961.43 689.9 L959.05 675.62 L956.67 680.38 L954.29 683.95 L951.9 681.57 L949.52 668.48 L947.14 670.86 L943.57 678 L941.19 683.95 L938.81 694.67 L936.43 701.81 L934.64 710.14 L932.86 713.71 L931.07 728 L929.29 735.14 L926.9 725.62 L924.52 723.24 L922.14 737.52 L920.36 758.95 L918.57 770.86 L916.79 787.52 L915 782.76 L912.62 775.62 L910.24 760.14 L907.86 762.52 L904.29 766.1 L900.71 776.81 L898.33 775.62 L894.76 770.86 L891.19 781.57 L886.43 792.29 L882.86 798 L875 807.14 L872.62 808.33 L870.24 802.38 L867.86 804.76 L865.48 819.05 L863.69 840.48 L861.9 838.1 L859.52 834.52 L857.14 833.33 L854.76 836.9 L853.57 847.62 L851.79 836.9 L850 825 L847.62 816.67 L845.24 817.86 L842.86 820.24 L839.88 817.86 L836.9 811.9 L834.52 804.76 L832.14 798.81 L830.36 795.24 L828.57 802.38 L825 802.38 L822.62 800 L820.24 797.62 L816.67 792.86 L814.29 783.33 L811.9 785.71 L809.52 783.33 L805.95 779.76 L802.38 778.57 L798.81 782.14 L794.05 780.95 L790.48 779.76 L788.1 776.19 L786.9 767.86 L784.52 766.67 L782.14 769.05 L779.18 749.17 L777.99 744.4 L775.6 740.83 L773.22 737.26 L770.84 732.5 L768.46 728.93 L766.08 725.36 L763.7 721.79 L761.32 714.64 L758.94 707.5 L757.15 705.12 L755.96 692.02 L754.18 686.07 L752.99 689.64 L751.8 687.26 L749.41 682.5 L747.03 678.93 L744.65 672.98 L743.46 663.45 L741.08 658.69 L738.7 656.31 L737.51 649.17 L733.94 639.64 L730.37 634.88 L725.6 633.69 L723.7 642.5 L720.13 652.02 L718.94 643.69 L716.56 618.69 L714.18 631.79 L711.2 642.5 L709.41 624.64 L707.03 612.74 L704.65 610.36 L702.27 603.21 L699.89 600.83 L697.51 612.74 L695.13 616.31 L692.75 618.69 L690.37 624.64 L687.99 636.55 L684.41 654.4 L682.63 663.93 L680.84 630.6 L679.65 612.74 L677.27 616.31 L674.89 610.36 L672.51 582.98 L670.72 610.36 L669.53 629.4 L666.56 624.64 L662.99 619.88 L659.41 624.64 L655.84 622.26 L653.46 642.5 L651.08 663.93 L647.51 660.36 L643.94 657.98 L641.56 662.74 L639.18 672.26 L636.8 674.64 L634.41 660.36 L632.51 679.17 L628.94 685.12 L625.37 697.02 L622.99 704.17 L619.41 704.17 L616.44 713.69 L614.65 704.17 L612.27 689.88 L608.7 693.45 L605.13 697.02 L600.37 699.4 L596.8 704.17 L593.22 711.31 L589.65 720.83 L586.08 730.36 L582.51 739.88 L578.94 756.55 L576.56 766.07 L574.77 777.98 L572.99 787.5 L570.6 799.4 L569.41 792.26 L568.22 780.36 L564.65 785.12 L559.89 792.26 L555.13 797.02 L545.6 804.17 L540 816.67 L535.24 819.05 L531.67 820.24 L528.1 822.62 L524.52 826.19 L522.14 829.76 L518.57 827.38 L515 828.57 L512.62 829.76 L510.24 828.57 L507.86 826.19 L506.67 842.86 L505.48 852.38 L504.29 842.86 L501.9 854.76 L500.12 860.71 L498.33 858.33 L494.76 860.71 L492.98 866.67 L491.19 864.29 L488.81 860.71 L487.62 857.14 L486.43 841.67 L484.05 839.29 L480.48 836.9 L479.29 828.57 L478.1 820.24 L475.71 804.76 L474.52 790.48 L472.14 785.71 L469.76 780.95 L467.38 770.24 L465 761.9 L461.43 759.52 L455.48 754.76 L451.9 745.24 L448.33 738.1 L432.75 704.86 L431.06 698.14 L428.26 694.78 L426.02 691.42 L423.78 685.82 L421.54 681.33 L419.3 675.73 L415.94 672.37 L412.58 670.13 L411.46 662.29 L410.34 656.68 L406.97 654.44 L402.49 652.2 L399.69 655.56 L398.01 651.08 L396.89 643.24 L394.65 633.15 L393.53 625.31 L391.85 617.47 L390.17 611.87 L386.81 604.02 L383.45 597.3 L381.2 588.34 L380.76 578.68 L377.82 572.79 L374.88 574.75 L371.94 578.68 L368.99 576.72 L366.05 582.6 L363.11 592.4 L361.15 599.26 L359.19 596.32 L356.25 589.46 L353.31 587.5 L351.35 578.68 L348.41 583.58 L345.46 594.36 L342.52 604.17 L339.58 612.01 L337.62 615.93 L336.15 598.28 L334.68 592.4 L331.74 602.21 L328.8 606.13 L326.84 613.97 L324.88 625.74 L322.92 645.34 L320.46 652.21 L318.5 660.05 L317.52 662.01 L316.54 612.01 L315.07 601.23 L313.11 612.01 L311.15 615.93 L309.19 617.89 L307.23 631.62 L304.29 641.42 L302.33 648.28 L301.35 647.3 L299.39 641.42 L297.43 655.15 L295.95 665.93 L294.48 664.95 L292.52 653.19 L290.56 649.26 L289.07 654.49 L286.44 656.59 L284.34 667.09 L281.19 670.24 L276.99 671.29 L274.89 681.79 L272.79 689.14 L270.69 700.69 L268.6 713.29 L266.5 717.49 L263.35 721.69 L261.25 725.89 L259.15 734.28 L253.9 738.48 L249.7 742.68 L246.55 748.98 L244.45 757.38 L236.05 756.33 L235.35 761.77 L233.23 765.16 L229.84 767.7 L225.61 770.24 L223.07 769.39 L221.37 766.85 L217.99 766.85 L214.6 768.55 L211.21 771.93 L208.67 771.09 L206.13 770.24 L204.44 775.32 L201.9 778.28 L198.51 777.86 L195.97 776.17 L192.58 775.32 L190.89 773.63 L187.5 774.47 L184.12 777.01 L182.42 776.17 L180.73 772.78 L177.34 771.93 L175.65 774.47 L173.96 777.86 L171.42 779.55 L168.88 782.94 L164.64 780.4 L162.95 777.01 L160.41 770.24 L158.72 763.47 L156.18 765.16 L154.9 769.39 L153.63 766.85 L151.94 761.77 L149.4 760.93 L145.17 760.08 L141.78 756.69 L139.2 749.92Z" fill="#c0c0c0" stroke="none"/>
<path d="M139.2 748.22 L140.09 755 L141.36 755.84 L143.05 753.3 L144.32 751.61 L145.59 758.38 L146.86 759.23 L148.55 757.96 L150.25 759.65 L151.52 760.08 L152.79 757.11 L154.06 757.54 L154.65 761.35 L155.33 755.84 L156.6 756.69 L158.29 754.57 L159.56 757.54 L161.26 762.62 L163.37 766.01 L164.64 771.09 L166.76 773.2 L168.88 774.9 L170.57 773.2 L171.84 771.09 L173.53 771.93 L175.23 768.55 L176.92 767.28 L178.61 768.55 L179.88 766.85 L181.58 766.01 L183.27 772.36 L185.39 769.82 L187.5 768.55 L189.2 767.7 L190.89 769.39 L192.58 770.24 L195.13 766.85 L196.82 769.82 L198.94 771.09 L200.21 770.24 L202.32 771.51 L204.02 768.55 L205.29 760.93 L206.56 755.84 L207.83 758.38 L209.52 761.77 L211.21 764.74 L212.91 763.89 L214.6 760.93 L215.87 762.62 L217.14 762.62 L219.26 761.35 L221.37 760.08 L223.07 757.54 L224.76 756.69 L226.45 755.84 L228.15 754.15 L229.84 752.46 L231.96 750.34 L234.08 748.22 L235 745.83 L236.05 733.23 L237.1 720.64 L238.67 733.23 L240.25 740.06 L241.82 731.14 L243.4 741.11 L244.45 738.48 L246.02 731.14 L247.6 727.99 L249.7 726.94 L251.8 724.84 L253.9 720.64 L256 716.44 L258.62 712.76 L259.67 709.09 L260.72 702.79 L261.77 694.39 L263.35 696.49 L264.92 689.14 L266.5 684.94 L268.07 688.09 L269.12 680.74 L270.17 674.44 L271.22 670.24 L272.79 667.09 L273.84 663.94 L274.89 656.59 L275.94 646.1 L278.04 648.2 L280.14 648.2 L282.24 650.3 L284.34 646.1 L285.92 638.75 L287.49 632.45 L289.07 636.65 L290.07 625.74 L291.05 596.32 L291.54 584.56 L292.52 598.28 L293.5 620.83 L294.48 640.44 L295.27 647.3 L296.45 635.54 L298.41 620.83 L300.37 610.05 L301.35 620.83 L302.33 627.7 L304.29 623.77 L306.25 612.01 L307.72 598.28 L308.7 592.89 L310.17 598.28 L311.15 600.25 L313.11 590.44 L314.58 581.62 L315.56 579.66 L316.54 592.4 L317.52 612.01 L318.01 625.74 L319.48 615.93 L320.46 627.7 L321.45 629.66 L322.92 621.81 L324.39 606.13 L325.86 592.4 L327.82 582.6 L329.78 579.66 L331.74 574.75 L333.7 568.87 L335.17 564.95 L336.15 573.77 L337.13 586.52 L338.6 602.21 L340.07 598.28 L342.52 594.36 L344.48 586.52 L346.94 578.68 L348.9 572.79 L351.35 564.95 L353.31 574.75 L354.78 579.66 L355.76 578.68 L357.23 581.62 L359.19 582.6 L361.15 590.93 L363.11 582.6 L365.07 574.75 L367.03 570.83 L368.99 566.91 L370.95 569.85 L372.92 564.95 L374.88 562.01 L376.84 561.03 L378.31 565.93 L379.78 571.81 L381.74 576.72 L382.32 576.01 L384.57 579.93 L386.81 581.05 L389.05 584.97 L390.73 589.46 L391.85 596.18 L392.97 605.14 L394.65 612.99 L396.33 617.47 L397.45 625.31 L399.69 632.03 L402.49 633.15 L404.73 636.52 L408.1 641 L410.34 643.24 L412.02 651.08 L413.7 654.44 L415.94 655.56 L418.18 660.04 L420.98 664.53 L422.66 670.13 L424.9 676.85 L427.14 681.33 L430.5 685.82 L431.62 693.66 L433.31 697.02 L436.11 693.66 L438.91 693.66 L440.59 697.02 L442.83 702.62 L445.07 707.1 L448.33 714.29 L451.9 723.81 L455.48 730.95 L459.05 736.9 L463.81 744.05 L468.57 752.38 L470.36 758.33 L472.14 759.52 L474.52 760.71 L475.71 769.05 L476.9 775 L478.69 782.14 L479.29 788.1 L479.88 795.24 L481.07 801.19 L482.86 804.76 L485.24 808.33 L486.43 813.1 L487.02 825 L487.62 834.52 L488.81 829.76 L490 834.52 L491.19 839.29 L492.38 848.81 L493.57 836.9 L494.76 841.67 L496.55 840.48 L498.33 844.05 L499.52 845.24 L500.71 838.1 L501.9 830.95 L503.1 823.81 L504.29 821.43 L505.24 834.52 L506.07 825 L507.26 809.52 L508.45 809.52 L510.24 816.67 L511.43 819.05 L513.21 815.48 L515 819.05 L517.38 819.05 L519.76 817.86 L521.55 820.24 L522.74 823.81 L524.52 820.24 L526.9 816.67 L529.29 814.29 L531.67 811.9 L534.05 808.93 L536.43 807.74 L540 804.76 L542.03 801.79 L545.6 798.21 L549.18 794.64 L552.75 791.07 L556.32 787.5 L558.7 782.74 L562.27 774.4 L564.65 766.07 L567.03 756.55 L568.22 751.79 L569.41 766.07 L570.6 774.4 L571.8 763.69 L572.99 754.17 L574.18 739.88 L575.37 732.74 L576.56 726.79 L578.94 723.21 L582.51 719.64 L586.08 714.88 L588.46 708.93 L589.65 697.02 L590.84 693.45 L593.22 694.64 L594.41 691.07 L595.6 688.69 L597.99 687.5 L599.77 688.69 L602.15 689.88 L603.94 692.26 L605.13 689.88 L606.32 686.31 L608.7 682.74 L611.08 677.98 L612.87 673.21 L614.65 687.5 L616.44 697.02 L617.03 699.4 L618.22 692.26 L620.6 682.74 L622.99 676.79 L624.18 670.83 L626.56 661.31 L628.94 655.36 L631.32 647.02 L632.63 624.64 L633.82 612.74 L635.01 630.6 L636.8 654.4 L637.99 657.98 L639.77 648.45 L641.56 640.12 L643.34 631.79 L645.13 632.98 L646.91 635.36 L648.7 634.17 L650.49 636.55 L652.27 624.64 L654.06 610.36 L655.84 594.88 L657.03 591.31 L658.22 599.64 L660.01 600.83 L661.8 598.45 L664.18 603.21 L666.56 607.98 L669.53 609.17 L670.72 591.31 L671.32 565.12 L672.27 548.45 L673.1 562.74 L674.3 580.6 L676.08 591.31 L677.27 594.88 L678.46 588.93 L679.65 584.17 L680.84 598.45 L682.03 624.64 L682.63 640.12 L684.41 634.17 L686.8 622.26 L689.18 607.98 L690.96 591.31 L692.15 588.93 L693.34 596.07 L695.13 593.69 L697.51 591.31 L699.3 581.79 L700.49 568.69 L702.27 572.26 L703.46 569.88 L705.25 584.17 L707.03 588.93 L708.82 600.83 L710.6 618.69 L712.39 610.36 L714.18 600.83 L715.96 598.45 L717.75 607.98 L718.94 624.64 L720.13 636.55 L721.91 627.02 L723.7 615.12 L724.41 620.6 L726.8 622.98 L729.18 625.36 L731.56 625.95 L733.94 627.74 L736.32 630.12 L738.7 634.88 L741.08 639.64 L744.06 645.6 L745.25 651.55 L747.03 656.31 L749.41 662.26 L751.8 665.83 L752.99 669.4 L754.18 664.64 L755.37 667.02 L756.56 675.36 L757.75 683.69 L760.13 689.64 L762.51 695.6 L764.89 701.55 L768.46 706.31 L770.25 712.26 L772.03 719.4 L773.82 725.36 L775.6 730.12 L777.99 734.88 L780.37 742.02 L781.56 749.17 L782.14 748.81 L784.52 750 L786.9 751.19 L788.69 759.52 L790.48 765.48 L792.86 769.05 L795.24 771.43 L797.62 772.62 L800 775 L802.38 773.81 L805.95 775 L808.33 776.19 L810.71 777.38 L812.5 773.81 L813.33 769.05 L814.88 776.19 L816.67 780.95 L819.05 785.71 L821.43 790.48 L823.81 794.05 L826.19 796.43 L827.98 794.05 L829.17 786.9 L830.36 778.57 L831.55 782.14 L833.33 794.05 L835.12 794.05 L836.9 791.67 L838.69 794.05 L840.48 800 L842.26 802.38 L844.05 800 L846.43 798.81 L847.62 794.05 L848.81 798.81 L850 804.76 L851.19 814.29 L852.38 823.81 L853.57 829.76 L854.76 819.05 L857.14 815.48 L859.52 815.48 L861.31 817.86 L863.1 822.62 L864.29 807.14 L865.48 790.48 L867.26 785.71 L869.64 785.71 L870.83 792.86 L872.62 794.05 L875 791.67 L875.71 792.29 L878.1 792.29 L880.48 789.9 L882.86 785.14 L885.24 778 L886.43 770.86 L888.81 768.48 L891.19 768.48 L892.98 769.67 L894.76 764.9 L897.14 760.14 L898.93 763.71 L900.71 764.9 L903.1 757.76 L905.48 753 L907.86 748.24 L909.64 741.1 L910.83 737.52 L912.02 742.29 L913.21 751.81 L915 754.19 L916.19 758.95 L917.38 753 L918.57 742.29 L919.76 729.19 L920.95 716.1 L921.55 705.38 L922.14 697.05 L923.33 689.9 L925.71 686.33 L926.9 692.29 L928.1 699.43 L929.29 708.95 L930.48 699.43 L931.67 689.9 L932.86 687.52 L934.64 691.1 L936.43 682.76 L937.62 674.43 L938.81 668.48 L940 669.67 L941.79 663.71 L943.57 656.57 L945.95 650.62 L948.33 642.29 L949.52 639.9 L950.71 651.81 L951.9 667.29 L953.1 672.05 L954.88 667.29 L956.67 669.67 L957.86 666.1 L959.64 654.19 L960.83 663.71 L962.02 672.05 L963.21 663.71 L964.41 651.07 L966.8 645.12 L967.99 635.6 L969.18 628.45 L970.96 633.21 L972.75 643.93 L973.94 643.93 L975.13 627.26 L976.32 626.07 L977.51 634.4 L979.3 636.79 L981.08 629.64 L983.46 623.69 L985.84 617.74 L988.22 614.17 L990.6 605.83 L992.99 597.5 L995.37 592.74 L997.75 590.36 L999.53 583.21 L1001.32 578.45 L1003.1 576.07 L1004.89 571.31 L1006.08 585.6 L1007.27 611.79 L1008.46 637.98 L1009.65 615.36 L1010.84 593.93 L1012.03 576.07 L1013.22 566.55 L1014.41 582.02 L1015.6 593.93 L1016.8 610.6 L1017.99 601.07 L1019.77 583.21 L1021.56 570.12 L1023.34 560.6 L1025.72 557.02 L1027.51 564.17 L1029.3 584.4 L1031.08 583.21 L1033.46 574.88 L1035.84 567.74 L1037.63 572.5 L1038.82 593.93 L1040.01 617.74 L1041.2 632.02 L1042.39 617.74 L1043.58 597.5 L1044.77 603.45 L1045.96 612.98 L1047.75 608.21 L1048 605.83" fill="none" stroke="#000" stroke-width="1.3" stroke-linejoin="round"/>
<circle cx="454.8" cy="733.7" r="4.3" fill="#fff" stroke="#000" stroke-width="1.35"/>
<circle cx="459.9" cy="735.4" r="4.3" fill="#fff" stroke="#000" stroke-width="1.35"/>
<circle cx="464.6" cy="742.8" r="4.3" fill="#fff" stroke="#000" stroke-width="1.35"/>
<circle cx="469.2" cy="752.8" r="4.3" fill="#fff" stroke="#000" stroke-width="1.35"/>
<circle cx="568.5" cy="732.8" r="4.3" fill="#fff" stroke="#000" stroke-width="1.35"/>
<circle cx="571.3" cy="742.2" r="4.3" fill="#fff" stroke="#000" stroke-width="1.35"/>
<circle cx="574.8" cy="741.6" r="4.3" fill="#fff" stroke="#000" stroke-width="1.35"/>
<circle cx="582.4" cy="731.2" r="4.3" fill="#fff" stroke="#000" stroke-width="1.35"/>
<circle cx="575.8" cy="719.5" r="4.3" fill="#fff" stroke="#000" stroke-width="1.35"/>
<circle cx="579.2" cy="721.4" r="4.3" fill="#fff" stroke="#000" stroke-width="1.35"/>
<circle cx="584.6" cy="722.7" r="4.3" fill="#fff" stroke="#000" stroke-width="1.35"/>
<circle cx="590.2" cy="725.8" r="4.3" fill="#fff" stroke="#000" stroke-width="1.35"/>
<circle cx="594" cy="720.8" r="4.3" fill="#fff" stroke="#000" stroke-width="1.35"/>
<circle cx="598.4" cy="717.6" r="4.3" fill="#fff" stroke="#000" stroke-width="1.35"/>
<circle cx="587.7" cy="711.7" r="4.3" fill="#fff" stroke="#000" stroke-width="1.35"/>
<circle cx="616.5" cy="710.2" r="4.3" fill="#fff" stroke="#000" stroke-width="1.35"/>
<circle cx="619.5" cy="706.6" r="4.3" fill="#fff" stroke="#000" stroke-width="1.35"/>
<circle cx="624.9" cy="694.3" r="4.3" fill="#fff" stroke="#000" stroke-width="1.35"/>
<circle cx="632" cy="667.5" r="4.3" fill="#fff" stroke="#000" stroke-width="1.35"/>
<circle cx="644.8" cy="616.6" r="4.3" fill="#fff" stroke="#000" stroke-width="1.35"/>
<circle cx="648.9" cy="620.4" r="4.3" fill="#fff" stroke="#000" stroke-width="1.35"/>
<circle cx="654.6" cy="596.5" r="4.3" fill="#fff" stroke="#000" stroke-width="1.35"/>
<circle cx="657.7" cy="606.5" r="4.3" fill="#fff" stroke="#000" stroke-width="1.35"/>
<circle cx="657.7" cy="614.1" r="4.3" fill="#fff" stroke="#000" stroke-width="1.35"/>
<circle cx="662.8" cy="585.1" r="4.3" fill="#fff" stroke="#000" stroke-width="1.35"/>
<circle cx="668.1" cy="580.1" r="4.3" fill="#fff" stroke="#000" stroke-width="1.35"/>
<circle cx="672.8" cy="588.9" r="4.3" fill="#fff" stroke="#000" stroke-width="1.35"/>
<circle cx="676.6" cy="603.4" r="4.3" fill="#fff" stroke="#000" stroke-width="1.35"/>
<circle cx="681.7" cy="599.6" r="4.3" fill="#fff" stroke="#000" stroke-width="1.35"/>
<circle cx="686.9" cy="616.9" r="4.3" fill="#fff" stroke="#000" stroke-width="1.35"/>
<circle cx="690.8" cy="579" r="4.3" fill="#fff" stroke="#000" stroke-width="1.35"/>
<circle cx="699.3" cy="602.1" r="4.3" fill="#fff" stroke="#000" stroke-width="1.35"/>
<circle cx="704.8" cy="575.1" r="4.3" fill="#fff" stroke="#000" stroke-width="1.35"/>
<circle cx="718.1" cy="589.9" r="4.3" fill="#fff" stroke="#000" stroke-width="1.35"/>
<circle cx="700.4" cy="604.1" r="4.3" fill="#fff" stroke="#000" stroke-width="1.35"/>
<circle cx="722.8" cy="633.7" r="4.3" fill="#fff" stroke="#000" stroke-width="1.35"/>
<circle cx="734.9" cy="634.4" r="4.3" fill="#fff" stroke="#000" stroke-width="1.35"/>
<circle cx="741.7" cy="646.5" r="4.3" fill="#fff" stroke="#000" stroke-width="1.35"/>
<circle cx="754.3" cy="666.5" r="4.3" fill="#fff" stroke="#000" stroke-width="1.35"/>
<circle cx="745.2" cy="670" r="4.3" fill="#fff" stroke="#000" stroke-width="1.35"/>
<circle cx="751.6" cy="695.1" r="4.3" fill="#fff" stroke="#000" stroke-width="1.35"/>
<circle cx="772.8" cy="703.2" r="4.3" fill="#fff" stroke="#000" stroke-width="1.35"/>
<circle cx="758.7" cy="707.7" r="4.3" fill="#fff" stroke="#000" stroke-width="1.35"/>
<circle cx="885.6" cy="775.6" r="4.3" fill="#fff" stroke="#000" stroke-width="1.35"/>
<circle cx="895" cy="775.6" r="4.3" fill="#fff" stroke="#000" stroke-width="1.35"/>
<circle cx="908.2" cy="752.3" r="4.3" fill="#fff" stroke="#000" stroke-width="1.35"/>
<circle cx="913" cy="759.6" r="4.3" fill="#fff" stroke="#000" stroke-width="1.35"/>
<circle cx="928.2" cy="708.6" r="4.3" fill="#fff" stroke="#000" stroke-width="1.35"/>
<circle cx="949.5" cy="644.2" r="4.3" fill="#fff" stroke="#000" stroke-width="1.35"/>
<circle cx="981.1" cy="624" r="4.3" fill="#fff" stroke="#000" stroke-width="1.35"/>
<circle cx="999.1" cy="587.1" r="4.3" fill="#fff" stroke="#000" stroke-width="1.35"/>
<circle cx="446" cy="716.5" r="4.3" fill="#808080" stroke="#000" stroke-width="1.35"/>
<circle cx="449.8" cy="719.3" r="4.3" fill="#808080" stroke="#000" stroke-width="1.35"/>
<circle cx="455.6" cy="717.8" r="4.3" fill="#808080" stroke="#000" stroke-width="1.35"/>
<circle cx="586.7" cy="703" r="4.3" fill="#808080" stroke="#000" stroke-width="1.35"/>
<circle cx="595.2" cy="689.3" r="4.3" fill="#808080" stroke="#000" stroke-width="1.35"/>
<circle cx="603.6" cy="681.9" r="4.3" fill="#808080" stroke="#000" stroke-width="1.35"/>
<circle cx="608.8" cy="675.6" r="4.3" fill="#808080" stroke="#000" stroke-width="1.35"/>
<circle cx="612.8" cy="669.9" r="4.3" fill="#808080" stroke="#000" stroke-width="1.35"/>
<circle cx="620.2" cy="668.8" r="4.3" fill="#808080" stroke="#000" stroke-width="1.35"/>
<circle cx="627.3" cy="662.9" r="4.3" fill="#808080" stroke="#000" stroke-width="1.35"/>
<circle cx="620.4" cy="658.4" r="4.3" fill="#808080" stroke="#000" stroke-width="1.35"/>
<circle cx="624.8" cy="655.9" r="4.3" fill="#808080" stroke="#000" stroke-width="1.35"/>
<circle cx="629.2" cy="652.8" r="4.3" fill="#808080" stroke="#000" stroke-width="1.35"/>
<circle cx="633.6" cy="649.6" r="4.3" fill="#808080" stroke="#000" stroke-width="1.35"/>
<circle cx="627.9" cy="662.8" r="4.3" fill="#808080" stroke="#000" stroke-width="1.35"/>
<circle cx="633" cy="657.8" r="4.3" fill="#808080" stroke="#000" stroke-width="1.35"/>
<circle cx="638.6" cy="652.1" r="4.3" fill="#808080" stroke="#000" stroke-width="1.35"/>
<circle cx="636.1" cy="642.9" r="4.3" fill="#808080" stroke="#000" stroke-width="1.35"/>
<circle cx="640.3" cy="635.3" r="4.3" fill="#808080" stroke="#000" stroke-width="1.35"/>
<circle cx="643.6" cy="640.7" r="4.3" fill="#808080" stroke="#000" stroke-width="1.35"/>
<circle cx="645.8" cy="636.8" r="4.3" fill="#808080" stroke="#000" stroke-width="1.35"/>
<circle cx="648.3" cy="629.2" r="4.3" fill="#808080" stroke="#000" stroke-width="1.35"/>
<circle cx="648.9" cy="624.8" r="4.3" fill="#808080" stroke="#000" stroke-width="1.35"/>
<circle cx="651.4" cy="613.5" r="4.3" fill="#808080" stroke="#000" stroke-width="1.35"/>
<circle cx="655.2" cy="629.2" r="4.3" fill="#808080" stroke="#000" stroke-width="1.35"/>
<circle cx="659" cy="621.7" r="4.3" fill="#808080" stroke="#000" stroke-width="1.35"/>
<circle cx="660.2" cy="627.3" r="4.3" fill="#808080" stroke="#000" stroke-width="1.35"/>
<circle cx="662.8" cy="605.3" r="4.3" fill="#808080" stroke="#000" stroke-width="1.35"/>
<circle cx="667.2" cy="608.4" r="4.3" fill="#808080" stroke="#000" stroke-width="1.35"/>
<circle cx="668.4" cy="599.9" r="4.3" fill="#808080" stroke="#000" stroke-width="1.35"/>
<circle cx="672.8" cy="593.9" r="4.3" fill="#808080" stroke="#000" stroke-width="1.35"/>
<circle cx="677.3" cy="611.6" r="4.3" fill="#808080" stroke="#000" stroke-width="1.35"/>
<circle cx="681.7" cy="622.3" r="4.3" fill="#808080" stroke="#000" stroke-width="1.35"/>
<circle cx="686.1" cy="631.3" r="4.3" fill="#808080" stroke="#000" stroke-width="1.35"/>
<circle cx="690.8" cy="610.6" r="4.3" fill="#808080" stroke="#000" stroke-width="1.35"/>
<circle cx="695.3" cy="607.3" r="4.3" fill="#808080" stroke="#000" stroke-width="1.35"/>
<circle cx="704.5" cy="612.3" r="4.3" fill="#808080" stroke="#000" stroke-width="1.35"/>
<circle cx="713.7" cy="609.1" r="4.3" fill="#808080" stroke="#000" stroke-width="1.35"/>
<circle cx="709" cy="622.1" r="4.3" fill="#808080" stroke="#000" stroke-width="1.35"/>
<circle cx="717.8" cy="624.9" r="4.3" fill="#808080" stroke="#000" stroke-width="1.35"/>
<circle cx="722.2" cy="620.5" r="4.3" fill="#808080" stroke="#000" stroke-width="1.35"/>
<circle cx="727.2" cy="608.8" r="4.3" fill="#808080" stroke="#000" stroke-width="1.35"/>
<circle cx="730.4" cy="619.9" r="4.3" fill="#808080" stroke="#000" stroke-width="1.35"/>
<circle cx="741" cy="633.6" r="4.3" fill="#808080" stroke="#000" stroke-width="1.35"/>
<circle cx="736" cy="646" r="4.3" fill="#808080" stroke="#000" stroke-width="1.35"/>
<circle cx="744.5" cy="657.1" r="4.3" fill="#808080" stroke="#000" stroke-width="1.35"/>
<circle cx="749.9" cy="655.8" r="4.3" fill="#808080" stroke="#000" stroke-width="1.35"/>
<circle cx="754.3" cy="673.2" r="4.3" fill="#808080" stroke="#000" stroke-width="1.35"/>
<circle cx="758.2" cy="712.1" r="4.3" fill="#808080" stroke="#000" stroke-width="1.35"/>
<circle cx="764.8" cy="711.8" r="4.3" fill="#808080" stroke="#000" stroke-width="1.35"/>
<circle cx="762.3" cy="720.5" r="4.3" fill="#808080" stroke="#000" stroke-width="1.35"/>
<circle cx="768.4" cy="715.4" r="4.3" fill="#808080" stroke="#000" stroke-width="1.35"/>
<circle cx="767.9" cy="721" r="4.3" fill="#808080" stroke="#000" stroke-width="1.35"/>
<circle cx="772.7" cy="717.9" r="4.3" fill="#808080" stroke="#000" stroke-width="1.35"/>
<circle cx="774.2" cy="726.6" r="4.3" fill="#808080" stroke="#000" stroke-width="1.35"/>
<circle cx="776" cy="733.7" r="4.3" fill="#808080" stroke="#000" stroke-width="1.35"/>
<circle cx="899.3" cy="763" r="4.3" fill="#808080" stroke="#000" stroke-width="1.35"/>
<circle cx="890.3" cy="769.6" r="4.3" fill="#808080" stroke="#000" stroke-width="1.35"/>
<circle cx="913.1" cy="737.7" r="4.3" fill="#808080" stroke="#000" stroke-width="1.35"/>
<circle cx="931.6" cy="701.9" r="4.3" fill="#808080" stroke="#000" stroke-width="1.35"/>
<circle cx="944.5" cy="631.8" r="4.3" fill="#808080" stroke="#000" stroke-width="1.35"/>
<path d="M139.2 738.91 L139.66 744.84 L140.93 749.92 L142.63 748.22 L144.15 744.84 L145.17 751.61 L146.44 755 L148.55 754.15 L150.67 755 L152.36 752.46 L153.63 753.3 L155.33 749.92 L157.02 750.76 L158.29 747.38 L159.99 750.76 L161.68 755 L163.37 756.69 L165.07 762.62 L167.18 765.16 L168.88 767.7 L170.99 764.31 L172.26 763.47 L174.38 765.58 L175.65 762.62 L177.34 760.08 L179.04 763.47 L180.31 762.2 L182 760.93 L183.27 767.7 L184.96 765.58 L187.08 763.47 L188.77 762.62 L190.89 763.89 L192.58 764.31 L195.13 762.62 L196.4 766.01 L198.51 767.7 L201.05 768.12 L202.82 768.82 L204.86 761.77 L206.13 753.3 L207.83 755.84 L209.52 760.08 L211.75 764.02 L212.11 763.47 L214.6 758.38 L216.57 762.06 L217.89 761.22 L219.14 760.37 L220.78 759.4 L222.85 756.66 L224.76 759.23 L226.45 759.23 L228.15 757.54 L229.84 755.42 L232.38 752.46 L234.11 745.67 L235.15 733.16 L237.1 718.54 L239.56 733.09 L239.53 739.52 L241.82 727.99 L243.4 738.48 L244.45 736.38 L246.02 729.04 L246.96 727.35 L249.16 726.22 L251.07 724.31 L253.1 720.21 L255.22 715.97 L257.82 712.36 L258.79 708.92 L260.72 700.69 L261.77 692.29 L263.35 694.39 L264.05 688.9 L266.5 682.84 L268.07 685.99 L268.23 680.59 L269.29 674.27 L270.37 669.94 L271.96 666.75 L272.96 663.77 L274 656.49 L275.1 645.78 L278.52 647.43 L280.62 647.43 L281.84 649.49 L283.48 645.83 L285.04 638.55 L286.99 631.7 L288.19 636.43 L290.07 620.83 L291.05 590.44 L292.03 606.13 L293.5 625.74 L295.38 640.36 L295.27 645.34 L297.43 630.64 L298.49 615.32 L301.17 609.65 L301.84 620.83 L303.31 623.77 L305.27 615.93 L307.23 601.23 L307.96 592.38 L310.66 596.32 L312.13 592.4 L313.22 584.34 L316.45 579.49 L317.03 600.25 L317.52 635.54 L318.01 642.4 L319.48 617.89 L320.95 623.77 L322.92 615.93 L324.88 598.28 L326.84 582.6 L329.78 574.75 L332.72 567.89 L334.68 560.05 L335.66 561.03 L337.13 579.66 L338.6 596.32 L340.56 592.4 L342.52 583.58 L344.48 576.72 L347.43 568.87 L351.35 557.11 L352.82 566.91 L354.29 569.85 L355.76 570.83 L357.23 571.81 L359.19 574.75 L361.15 582.6 L363.11 576.72 L365.07 566.91 L368.01 558.09 L369.97 560.05 L371.94 559.07 L373.9 555.15 L376.35 552.21 L378.31 556.13 L380.76 563.97 L381.2 565.93 L383.45 570.41 L385.69 572.09 L388.49 574.89 L390.73 580.49 L392.41 588.34 L393.53 595.06 L395.21 602.9 L396.89 610.75 L398.01 619.71 L400.25 624.19 L402.49 625.31 L405.85 628.67 L409.22 633.15 L411.46 638.76 L412.58 644.36 L414.82 644.36 L417.06 645.48 L419.3 655.56 L421.54 658.92 L423.78 665.65 L426.02 670.13 L428.26 673.49 L431.06 675.73 L432.18 685.82 L433.87 688.06 L436.67 685.82 L439.47 689.18 L442.83 695.9 L447.31 703.74 L448.33 709.52 L451.9 719.05 L455.48 727.38 L459.84 736.48 L464.53 743.51 L469.76 750 L473.93 754.76 L475.71 763.1 L478.1 772.62 L479.88 789.29 L481.67 792.86 L485.24 798.81 L487.02 813.1 L488.62 831.34 L489.4 814.29 L491.19 826.19 L492.38 830.95 L493.57 814.29 L494.76 830.95 L496.55 828.57 L498.33 830.95 L500.12 835.71 L501.31 826.19 L503.1 816.67 L504.29 811.9 L505.48 825 L506.67 805.95 L507.86 797.62 L510.24 804.76 L512.62 804.76 L515 808.33 L517.38 807.14 L519.76 809.52 L522.14 813.1 L523.93 815.48 L525.71 809.52 L528.1 807.14 L530.48 804.76 L532.86 801.19 L535.24 801.19 L537.62 800 L540 798.81 L543.22 794.64 L547.99 791.07 L552.75 786.31 L557.51 780.36 L561.08 772.02 L564.65 763.69 L567.03 754.17 L568.22 749.4 L569.41 768.45 L569.73 774.19 L571.8 758.93 L572.99 750.6 L573.88 736.22 L575.96 720.83 L577.75 718.45 L581.32 713.69 L584.89 708.93 L587.87 705.36 L589.65 694.64 L590.84 687.5 L593.22 686.31 L595.6 682.74 L597.99 681.55 L600.37 682.74 L602.75 683.93 L605.13 681.55 L607.51 677.98 L609.89 674.4 L612.27 668.45 L613.22 666.07 L614.65 682.74 L617.27 696.68 L617.63 689.88 L619.41 681.55 L621.8 673.21 L624.18 667.26 L626.56 657.74 L628.94 651.79 L631.32 644.64 L632.63 618.69 L633.82 604.4 L635.01 624.64 L636.8 648.45 L637.99 654.4 L640.37 642.5 L642.75 627.02 L643.94 624.64 L645.72 629.4 L647.51 627.02 L649.3 628.21 L651.08 622.26 L653.46 604.4 L655.25 588.93 L656.44 582.98 L658.22 591.31 L660.01 593.69 L661.8 588.93 L664.18 594.88 L666.56 600.83 L669.53 602.02 L670.72 577.02 L671.91 547.26 L672.51 536.55 L673.7 565.12 L675.49 579.4 L677.27 584.17 L679.06 577.02 L680.25 574.64 L681.44 600.83 L682.63 631.79 L684.41 624.64 L686.8 612.74 L689.18 598.45 L690.96 582.98 L691.8 575.83 L693.34 584.17 L695.13 580.6 L697.51 578.21 L698.7 571.07 L700.49 555.6 L702.27 557.98 L703.7 560.36 L705.84 571.07 L708.22 584.17 L710.6 606.79 L712.39 598.45 L714.18 593.69 L715.96 592.5 L717.75 600.83 L718.94 618.69 L720.13 631.79 L721.91 612.74 L723.1 606.79 L724.41 612.26 L727.99 615.83 L731.56 618.21 L735.13 621.79 L737.51 626.55 L739.3 632.5 L741.68 634.88 L744.06 640.83 L745.84 649.17 L748.22 653.93 L750.6 657.5 L752.99 661.07 L754.77 663.45 L756.56 669.4 L758.34 676.55 L760.72 680.12 L763.7 687.26 L766.08 692.02 L768.46 696.79 L770.25 703.93 L772.03 711.07 L773.82 718.21 L775.01 724.17 L776.8 726.55 L778.58 730.12 L780.37 736.07 L782.14 744.05 L784.52 742.86 L786.9 742.86 L788.69 753.57 L790.48 758.33 L792.86 760.71 L795.24 761.9 L798.21 764.29 L800.6 761.9 L802.38 764.29 L805.95 765.48 L808.33 766.07 L810.71 766.67 L812.5 761.9 L813.33 760.71 L814.88 767.86 L816.67 771.43 L819.05 776.19 L821.43 779.76 L823.81 783.33 L826.19 785.71 L827.98 784.52 L829.76 773.81 L830.71 769.05 L832.14 778.57 L833.93 784.52 L835.71 783.33 L838.1 782.14 L839.88 785.71 L841.67 791.67 L843.45 791.67 L845.83 789.29 L847.62 785.71 L848.81 791.67 L850 782.14 L850.6 797.62 L851.19 807.14 L852.38 814.29 L853.57 817.86 L854.76 813.1 L857.14 809.52 L859.52 809.52 L861.31 813.1 L863.1 817.86 L864.29 804.76 L865.48 784.52 L867.26 782.14 L869.64 782.14 L870.83 789.29 L872.62 788.1 L875 788.1 L876.36 791.66 L877.69 791.48 L879.73 789.41 L882.02 784.81 L884.36 777.78 L885.59 770.54 L888.41 767.67 L891.44 767.61 L892.34 769.03 L893.94 764.54 L896.9 759.28 L899.65 763.17 L899.98 764.39 L902.26 757.43 L904.67 752.6 L907.01 747.94 L908.78 740.85 L911.24 736.72 L912.91 742.14 L914.09 751.59 L915.83 753.84 L915.79 758.15 L916.49 752.87 L917.68 742.2 L918.87 729.11 L920.05 716.03 L920.65 705.32 L921.25 696.94 L922.48 689.62 L926.21 685.58 L927.79 692.12 L928.99 699.3 L929.29 708.05 L929.58 699.32 L930.78 689.73 L933.19 686.69 L933.92 690.56 L935.54 682.6 L936.73 674.28 L938 668.07 L939.24 669.19 L940.92 663.48 L942.71 656.3 L945.1 650.33 L947.48 642 L950.4 639.69 L951.61 651.73 L952.8 667.18 L953.1 671.15 L954.38 666.54 L956.33 668.83 L956.97 665.93 L959.08 653.49 L961.73 663.6 L962.02 671.15 L962.32 663.62 L964.41 648.69 L966.8 641.55 L967.99 633.21 L969.18 624.88 L970.96 629.64 L972.75 641.55 L973.94 641.55 L975.13 621.31 L976.32 622.5 L977.51 632.02 L979.3 634.4 L981.08 627.26 L983.46 620.12 L985.84 614.17 L988.22 610.6 L990.6 601.07 L992.99 591.55 L995.37 586.79 L997.75 584.4 L999.53 576.07 L1001.32 570.12 L1003.1 572.5 L1004.89 562.98 L1006.08 576.07 L1007.27 605.83 L1008.46 627.26 L1009.65 605.83 L1010.84 582.02 L1012.03 567.74 L1013.22 554.64 L1014.41 572.5 L1015.6 584.4 L1016.8 599.88 L1017.99 593.93 L1019.77 573.69 L1021.56 562.98 L1023.34 552.26 L1025.72 547.5 L1027.51 555.83 L1029.3 573.69 L1031.08 574.88 L1033.46 564.17 L1035.84 559.4 L1037.63 562.98 L1038.82 589.17 L1040.01 612.98 L1041.2 627.26 L1042.39 605.83 L1043.58 589.17 L1044.77 593.93 L1045.96 605.83 L1047.75 599.88 L1048 593.93" fill="none" stroke="#0000ff" stroke-width="0.6" stroke-linejoin="round"/>
<path d="M138.4 472.4 V895" stroke="#000" stroke-width="1.6"/>
<path d="M1048.8 472.4 V895.6" stroke="#000" stroke-width="1.6"/>
<path d="M130.7 895 H1049.6" stroke="#000" stroke-width="1.4"/>
<path d="M130.7 473 H138.4" stroke="#000" stroke-width="1.3"/>
<text transform="translate(121.8 479.6) scale(1 1.06)" font-size="18.5" text-anchor="end">-1.0</text>
<path d="M130.7 515.2 H138.4" stroke="#000" stroke-width="1.3"/>
<text transform="translate(121.8 521.8) scale(1 1.06)" font-size="18.5" text-anchor="end">-0.5</text>
<path d="M130.7 557.4 H138.4" stroke="#000" stroke-width="1.3"/>
<text transform="translate(121.8 564) scale(1 1.06)" font-size="18.5" text-anchor="end">0.0</text>
<path d="M130.7 599.6 H138.4" stroke="#000" stroke-width="1.3"/>
<text transform="translate(121.8 606.2) scale(1 1.06)" font-size="18.5" text-anchor="end">0.5</text>
<path d="M130.7 641.8 H138.4" stroke="#000" stroke-width="1.3"/>
<text transform="translate(121.8 648.4) scale(1 1.06)" font-size="18.5" text-anchor="end">1.0</text>
<path d="M130.7 684 H138.4" stroke="#000" stroke-width="1.3"/>
<text transform="translate(121.8 690.6) scale(1 1.06)" font-size="18.5" text-anchor="end">1.5</text>
<path d="M130.7 726.2 H138.4" stroke="#000" stroke-width="1.3"/>
<text transform="translate(121.8 732.8) scale(1 1.06)" font-size="18.5" text-anchor="end">2.0</text>
<path d="M130.7 768.4 H138.4" stroke="#000" stroke-width="1.3"/>
<text transform="translate(121.8 775) scale(1 1.06)" font-size="18.5" text-anchor="end">2.5</text>
<path d="M130.7 810.6 H138.4" stroke="#000" stroke-width="1.3"/>
<text transform="translate(121.8 817.2) scale(1 1.06)" font-size="18.5" text-anchor="end">3.0</text>
<path d="M130.7 852.8 H138.4" stroke="#000" stroke-width="1.3"/>
<text transform="translate(121.8 859.4) scale(1 1.06)" font-size="18.5" text-anchor="end">3.5</text>
<path d="M130.7 895 H138.4" stroke="#000" stroke-width="1.3"/>
<text transform="translate(121.8 901.6) scale(1 1.06)" font-size="18.5" text-anchor="end">4.0</text>
<path d="M1048.8 473 H1056.3" stroke="#000" stroke-width="1.3"/>
<text transform="translate(1064.3 479.6) scale(1 1.05)" font-size="19" fill="#0000ff">26</text>
<path d="M1048.8 513.22 H1056.3" stroke="#000" stroke-width="1.3"/>
<text transform="translate(1064.3 519.82) scale(1 1.05)" font-size="19" fill="#0000ff">24</text>
<path d="M1048.8 553.44 H1056.3" stroke="#000" stroke-width="1.3"/>
<text transform="translate(1064.3 560.04) scale(1 1.05)" font-size="19" fill="#0000ff">22</text>
<path d="M1048.8 593.66 H1056.3" stroke="#000" stroke-width="1.3"/>
<text transform="translate(1064.3 600.26) scale(1 1.05)" font-size="19" fill="#0000ff">20</text>
<path d="M1048.8 633.88 H1056.3" stroke="#000" stroke-width="1.3"/>
<text transform="translate(1064.3 640.48) scale(1 1.05)" font-size="19" fill="#0000ff">18</text>
<path d="M1048.8 674.1 H1056.3" stroke="#000" stroke-width="1.3"/>
<text transform="translate(1064.3 680.7) scale(1 1.05)" font-size="19" fill="#0000ff">16</text>
<path d="M1048.8 714.32 H1056.3" stroke="#000" stroke-width="1.3"/>
<text transform="translate(1064.3 720.92) scale(1 1.05)" font-size="19" fill="#0000ff">14</text>
<path d="M1048.8 754.54 H1056.3" stroke="#000" stroke-width="1.3"/>
<text transform="translate(1064.3 761.14) scale(1 1.05)" font-size="19" fill="#0000ff">12</text>
<path d="M1048.8 794.76 H1056.3" stroke="#000" stroke-width="1.3"/>
<text transform="translate(1064.3 801.36) scale(1 1.05)" font-size="19" fill="#0000ff">10</text>
<path d="M1048.8 834.98 H1056.3" stroke="#000" stroke-width="1.3"/>
<text transform="translate(1064.3 841.58) scale(1 1.05)" font-size="19" fill="#0000ff">8</text>
<path d="M1048.8 875.2 H1056.3" stroke="#000" stroke-width="1.3"/>
<text transform="translate(1064.3 881.8) scale(1 1.05)" font-size="19" fill="#0000ff">6</text>
<path d="M138.4 895 V906.5" stroke="#000" stroke-width="2.8"/>
<path d="M165.99 895 V899.7" stroke="#000" stroke-width="1.3"/>
<path d="M193.58 895 V899.7" stroke="#000" stroke-width="1.3"/>
<path d="M221.16 895 V899.7" stroke="#000" stroke-width="1.3"/>
<path d="M248.75 895 V899.7" stroke="#000" stroke-width="1.3"/>
<path d="M276.34 895 V899.7" stroke="#000" stroke-width="1.3"/>
<path d="M303.93 895 V899.7" stroke="#000" stroke-width="1.3"/>
<path d="M331.52 895 V899.7" stroke="#000" stroke-width="1.3"/>
<path d="M359.1 895 V899.7" stroke="#000" stroke-width="1.3"/>
<path d="M386.69 895 V899.7" stroke="#000" stroke-width="1.3"/>
<path d="M414.28 895 V899.7" stroke="#000" stroke-width="1.3"/>
<path d="M441.87 895 V899.7" stroke="#000" stroke-width="1.3"/>
<path d="M469.45 895 V906.5" stroke="#000" stroke-width="2.8"/>
<path d="M497.04 895 V899.7" stroke="#000" stroke-width="1.3"/>
<path d="M524.63 895 V899.7" stroke="#000" stroke-width="1.3"/>
<path d="M552.22 895 V899.7" stroke="#000" stroke-width="1.3"/>
<path d="M579.81 895 V899.7" stroke="#000" stroke-width="1.3"/>
<path d="M607.39 895 V899.7" stroke="#000" stroke-width="1.3"/>
<path d="M634.98 895 V899.7" stroke="#000" stroke-width="1.3"/>
<path d="M662.57 895 V899.7" stroke="#000" stroke-width="1.3"/>
<path d="M690.16 895 V899.7" stroke="#000" stroke-width="1.3"/>
<path d="M717.75 895 V899.7" stroke="#000" stroke-width="1.3"/>
<path d="M745.33 895 V899.7" stroke="#000" stroke-width="1.3"/>
<path d="M772.92 895 V899.7" stroke="#000" stroke-width="1.3"/>
<path d="M800.51 895 V906.5" stroke="#000" stroke-width="2.8"/>
<path d="M828.1 895 V899.7" stroke="#000" stroke-width="1.3"/>
<path d="M855.68 895 V899.7" stroke="#000" stroke-width="1.3"/>
<path d="M883.27 895 V899.7" stroke="#000" stroke-width="1.3"/>
<path d="M910.86 895 V899.7" stroke="#000" stroke-width="1.3"/>
<path d="M938.45 895 V899.7" stroke="#000" stroke-width="1.3"/>
<path d="M966.04 895 V899.7" stroke="#000" stroke-width="1.3"/>
<path d="M993.62 895 V899.7" stroke="#000" stroke-width="1.3"/>
<path d="M1021.21 895 V899.7" stroke="#000" stroke-width="1.3"/>
<path d="M1048.8 895 V899.7" stroke="#000" stroke-width="1.3"/>
<path d="M139.2 1222.6 L140.09 1226.84 L143.47 1226.84 L145.17 1233.61 L148.55 1236.15 L151.94 1231.92 L153.63 1231.92 L155.33 1228.53 L157.87 1228.53 L159.99 1231.92 L162.1 1237 L164.64 1243.77 L167.18 1246.31 L168.88 1248.85 L172.26 1244.62 L176.5 1242.08 L179.04 1242.08 L181.58 1242.08 L183.27 1248.01 L187.5 1244.62 L190.89 1245.47 L194.28 1242.93 L195.97 1245.47 L199.36 1246.31 L203.59 1246.31 L205.29 1234.46 L206.56 1231.92 L208.67 1237.84 L210.37 1239.54 L212.91 1236.15 L214.6 1235.3 L217.14 1238.69 L220.53 1236.15 L223.07 1225.99 L226.45 1222.6 L229.84 1218.37 L233.23 1214.14 L235 1212.09 L236.57 1186.89 L238.15 1188.99 L239.2 1201.59 L242.35 1199.49 L244.45 1209.99 L247.07 1197.39 L249.7 1195.29 L252.85 1188.99 L254.95 1178.49 L258.1 1174.29 L261.25 1154.34 L265.45 1142.79 L267.55 1141.74 L269.12 1132.3 L271.74 1129.15 L274.89 1110.25 L278.04 1106.05 L281.19 1111.3 L284.34 1102.9 L286.97 1098.7 L289.58 1100.87 L291.05 1050.87 L292.03 1060.68 L293.5 1095.97 L296.45 1088.13 L298.41 1074.4 L300.86 1072.44 L303.31 1080.28 L307.23 1057.74 L309.19 1055.77 L313.11 1047.93 L315.07 1044.99 L316.05 1045.97 L317.03 1075.38 L318.5 1078.32 L320.95 1080.28 L322.92 1066.56 L326.84 1045.97 L329.78 1041.07 L332.72 1035.19 L334.68 1032.25 L336.64 1039.11 L338.6 1065.58 L340.56 1060.68 L343.5 1050.87 L346.45 1044.99 L350.37 1037.15 L352.33 1038.13 L354.29 1044.99 L358.21 1051.85 L361.15 1056.75 L363.11 1049.89 L366.05 1039.11 L369.97 1039.11 L373.9 1035.19 L376.35 1033.23 L379.78 1041.07 L383.45 1041.2 L386.81 1039.52 L390.17 1043.45 L391.85 1052.41 L393.53 1062.49 L395.77 1073.7 L398.01 1083.78 L399.13 1092.75 L402.49 1094.99 L405.85 1101.71 L409.22 1108.43 L411.46 1114.03 L413.14 1119.64 L415.94 1120.76 L418.18 1123 L421.54 1128.6 L423.78 1135.32 L427.14 1145.41 L431.62 1153.25 L432.75 1162.21 L437.23 1161.09 L440.59 1163.33 L446.19 1172.3 L450 1175.66 L451.9 1182 L457.86 1199.86 L463.81 1205.81 L468.57 1208.19 L472.14 1214.14 L474.52 1214.14 L476.9 1229.62 L479.29 1248.67 L482.86 1255.81 L485.83 1265.33 L486.43 1274.86 L487.02 1289.14 L488.81 1295.1 L491.19 1298.67 L492.98 1289.14 L494.76 1305.81 L497.14 1307 L499.52 1310.57 L501.31 1296.29 L503.1 1287.95 L504.88 1286.76 L506.67 1278.43 L509.05 1282 L512.62 1284.38 L516.19 1286.76 L519.76 1287.95 L523.33 1295.1 L526.9 1286.76 L530.48 1284.38 L534.05 1280.81 L537.62 1280.81 L540 1279.62 L543.22 1271.88 L551.56 1264.74 L557.51 1252.83 L559.89 1245.69 L563.46 1232.6 L565.84 1220.69 L567.63 1213.55 L569.41 1220.69 L572.99 1217.12 L575.37 1193.31 L576.56 1181.4 L578.94 1177.83 L582.51 1173.07 L586.08 1175.45 L588.46 1169.5 L590.84 1162.36 L593.22 1161.17 L595.6 1158.79 L600.37 1162.36 L605.13 1155.21 L609.89 1149.26 L612.27 1143.31 L614.06 1158.79 L615.84 1167.12 L618.22 1158.79 L620.6 1131.4 L624.18 1126.64 L627.75 1123.07 L630.13 1119.5 L633.22 1076.88 L635.01 1106.64 L636.8 1124.5 L639.18 1118.55 L642.75 1094.74 L645.13 1100.69 L648.7 1092.36 L652.27 1086.4 L655.84 1056.64 L659.41 1061.4 L661.8 1057.83 L665.37 1066.17 L668.94 1070.93 L670.13 1059.02 L671.32 1017.36 L672.51 1009.02 L673.7 1035.21 L676.08 1049.5 L679.65 1043.55 L682.03 1082.83 L683.22 1094.74 L685.6 1086.4 L688.58 1062.6 L691.56 1047.12 L693.94 1055.45 L696.32 1054.26 L699.3 1047.12 L700.49 1034.02 L702.27 1037.6 L704.06 1035.21 L705.84 1049.5 L709.41 1076.88 L711.8 1070.93 L714.18 1061.4 L716.56 1061.4 L718.34 1070.93 L720.13 1094.74 L721.91 1082.83 L723.7 1080.45 L725.6 1091.88 L729.18 1096.64 L733.94 1095.45 L737.51 1100.21 L741.08 1107.36 L744.65 1114.5 L747.03 1120.45 L749.41 1126.4 L752.99 1126.4 L754.77 1129.98 L756.56 1140.69 L758.94 1147.83 L762.51 1152.6 L766.08 1158.55 L768.46 1162.12 L769.65 1168.07 L772.03 1176.4 L773.22 1182.36 L774.41 1187.12 L776.8 1190.69 L779.18 1197.83 L780.37 1204.98 L782.75 1212.12 L783.33 1212.95 L786.9 1214.14 L789.29 1229.62 L792.86 1239.14 L796.43 1242.71 L800 1246.29 L803.57 1248.67 L807.14 1252.24 L810.71 1249.86 L813.1 1242.71 L815.48 1251.05 L817.86 1255.81 L821.43 1260.57 L825 1262.95 L827.38 1265.33 L829.76 1253.43 L830.95 1251.05 L833.33 1258.19 L836.9 1258.19 L839.29 1258.19 L841.67 1262.95 L845.24 1260.57 L847.62 1255.81 L850 1252.24 L851.19 1283.19 L853.57 1286.76 L855.95 1282 L858.33 1278.43 L861.9 1284.38 L864.29 1255.81 L866.67 1253.43 L870.24 1253.43 L872.62 1259.38 L875 1260.57 L875.71 1262.38 L879.29 1263.57 L882.86 1256.43 L886.43 1238.57 L890 1238.57 L893.57 1240.95 L897.14 1230.24 L900.71 1236.19 L904.29 1230.24 L907.86 1219.52 L910.24 1195.71 L912.62 1205.24 L916.19 1210 L918.57 1207.62 L920.95 1169.52 L923.33 1144.52 L925.71 1139.76 L928.1 1152.86 L930.48 1162.38 L932.86 1150.48 L936.43 1155.24 L937.62 1131.43 L941.19 1130.24 L943.57 1121.9 L947.14 1114.76 L949.52 1110 L951.9 1127.86 L955.48 1136.19 L959.05 1120.71 L961.43 1124.29 L963.81 1127.86 L964.41 1114.02 L966.8 1114.02 L968.58 1094.98 L970.37 1094.98 L972.75 1111.64 L975.13 1092.6 L976.91 1097.36 L978.7 1099.74 L981.08 1087.83 L984.65 1080.69 L988.22 1071.17 L991.8 1060.45 L995.37 1053.31 L998.94 1040.21 L1002.51 1039.02 L1004.89 1033.07 L1006.68 1075.93 L1008.46 1097.36 L1010.84 1049.74 L1012.63 1028.31 L1013.82 1024.74 L1015.6 1040.21 L1017.99 1052.12 L1020.37 1040.21 L1023.94 1028.31 L1026.32 1022.36 L1028.7 1028.31 L1031.08 1040.21 L1034.65 1029.5 L1035.84 1030.69 L1037.03 1046.17 L1039.41 1087.83 L1041.8 1085.45 L1044.18 1071.17 L1046.56 1078.31 L1048 1075.93 L1048 1092.6 L1047.75 1094.98 L1045.37 1097.36 L1042.99 1102.12 L1041.2 1114.02 L1039.41 1099.74 L1037.63 1075.93 L1035.84 1071.17 L1032.27 1085.45 L1029.89 1089.02 L1028.1 1075.93 L1026.32 1071.17 L1022.75 1075.93 L1020.37 1090.21 L1018.58 1109.26 L1016.8 1117.6 L1015.6 1103.31 L1013.22 1087.83 L1010.84 1106.88 L1009.06 1135.45 L1007.87 1141.4 L1006.68 1111.64 L1004.89 1078.31 L1002.51 1077.12 L1000.13 1085.45 L996.56 1091.4 L992.99 1099.74 L989.41 1111.64 L985.84 1118.79 L982.27 1123.55 L979.3 1133.07 L977.51 1130.69 L975.13 1133.07 L973.94 1142.6 L971.56 1139.02 L969.18 1137.83 L966.8 1146.17 L964.41 1153.31 L963.81 1167.14 L961.43 1171.9 L959.05 1157.62 L956.67 1162.38 L954.29 1165.95 L951.9 1163.57 L949.52 1150.48 L947.14 1152.86 L943.57 1160 L941.19 1165.95 L938.81 1176.67 L936.43 1183.81 L934.64 1192.14 L932.86 1195.71 L931.07 1210 L929.29 1217.14 L926.9 1207.62 L924.52 1205.24 L922.14 1219.52 L920.36 1240.95 L918.57 1252.86 L916.79 1269.52 L915 1264.76 L912.62 1257.62 L910.24 1242.14 L907.86 1244.52 L904.29 1248.1 L900.71 1258.81 L898.33 1257.62 L894.76 1252.86 L891.19 1263.57 L886.43 1274.29 L882.86 1280 L875 1289.14 L872.62 1290.33 L870.24 1284.38 L867.86 1286.76 L865.48 1301.05 L863.69 1322.48 L861.9 1320.1 L859.52 1316.52 L857.14 1315.33 L854.76 1318.9 L853.57 1329.62 L851.79 1318.9 L850 1307 L847.62 1298.67 L845.24 1299.86 L842.86 1302.24 L839.88 1299.86 L836.9 1293.9 L834.52 1286.76 L832.14 1280.81 L830.36 1277.24 L828.57 1284.38 L825 1284.38 L822.62 1282 L820.24 1279.62 L816.67 1274.86 L814.29 1265.33 L811.9 1267.71 L809.52 1265.33 L805.95 1261.76 L802.38 1260.57 L798.81 1264.14 L794.05 1262.95 L790.48 1261.76 L788.1 1258.19 L786.9 1249.86 L784.52 1248.67 L782.14 1251.05 L779.18 1231.17 L777.99 1226.4 L775.6 1222.83 L773.22 1219.26 L770.84 1214.5 L768.46 1210.93 L766.08 1207.36 L763.7 1203.79 L761.32 1196.64 L758.94 1189.5 L757.15 1187.12 L755.96 1174.02 L754.18 1168.07 L752.99 1171.64 L751.8 1169.26 L749.41 1164.5 L747.03 1160.93 L744.65 1154.98 L743.46 1145.45 L741.08 1140.69 L738.7 1138.31 L737.51 1131.17 L733.94 1121.64 L730.37 1116.88 L725.6 1115.69 L723.7 1124.5 L720.13 1134.02 L718.94 1125.69 L716.56 1100.69 L714.18 1113.79 L711.2 1124.5 L709.41 1106.64 L707.03 1094.74 L704.65 1092.36 L702.27 1085.21 L699.89 1082.83 L697.51 1094.74 L695.13 1098.31 L692.75 1100.69 L690.37 1106.64 L687.99 1118.55 L684.41 1136.4 L682.63 1145.93 L680.84 1112.6 L679.65 1094.74 L677.27 1098.31 L674.89 1092.36 L672.51 1064.98 L670.72 1092.36 L669.53 1111.4 L666.56 1106.64 L662.99 1101.88 L659.41 1106.64 L655.84 1104.26 L653.46 1124.5 L651.08 1145.93 L647.51 1142.36 L643.94 1139.98 L641.56 1144.74 L639.18 1154.26 L636.8 1156.64 L634.41 1142.36 L632.51 1161.17 L628.94 1167.12 L625.37 1179.02 L622.99 1186.17 L619.41 1186.17 L616.44 1195.69 L614.65 1186.17 L612.27 1171.88 L608.7 1175.45 L605.13 1179.02 L600.37 1181.4 L596.8 1186.17 L593.22 1193.31 L589.65 1202.83 L586.08 1212.36 L582.51 1221.88 L578.94 1238.55 L576.56 1248.07 L574.77 1259.98 L572.99 1269.5 L570.6 1281.4 L569.41 1274.26 L568.22 1262.36 L564.65 1267.12 L559.89 1274.26 L555.13 1279.02 L545.6 1286.17 L540 1298.67 L535.24 1301.05 L531.67 1302.24 L528.1 1304.62 L524.52 1308.19 L522.14 1311.76 L518.57 1309.38 L515 1310.57 L512.62 1311.76 L510.24 1310.57 L507.86 1308.19 L506.67 1324.86 L505.48 1334.38 L504.29 1324.86 L501.9 1336.76 L500.12 1342.71 L498.33 1340.33 L494.76 1342.71 L492.98 1348.67 L491.19 1346.29 L488.81 1342.71 L487.62 1339.14 L486.43 1323.67 L484.05 1321.29 L480.48 1318.9 L479.29 1310.57 L478.1 1302.24 L475.71 1286.76 L474.52 1272.48 L472.14 1267.71 L469.76 1262.95 L467.38 1252.24 L465 1243.9 L461.43 1241.52 L455.48 1236.76 L451.9 1227.24 L448.33 1220.1 L432.75 1186.86 L431.06 1180.14 L428.26 1176.78 L426.02 1173.42 L423.78 1167.82 L421.54 1163.33 L419.3 1157.73 L415.94 1154.37 L412.58 1152.13 L411.46 1144.29 L410.34 1138.68 L406.97 1136.44 L402.49 1134.2 L399.69 1137.56 L398.01 1133.08 L396.89 1125.24 L394.65 1115.15 L393.53 1107.31 L391.85 1099.47 L390.17 1093.87 L386.81 1086.02 L383.45 1079.3 L381.2 1070.34 L380.76 1060.68 L377.82 1054.79 L374.88 1056.75 L371.94 1060.68 L368.99 1058.72 L366.05 1064.6 L363.11 1074.4 L361.15 1081.26 L359.19 1078.32 L356.25 1071.46 L353.31 1069.5 L351.35 1060.68 L348.41 1065.58 L345.46 1076.36 L342.52 1086.17 L339.58 1094.01 L337.62 1097.93 L336.15 1080.28 L334.68 1074.4 L331.74 1084.21 L328.8 1088.13 L326.84 1095.97 L324.88 1107.74 L322.92 1127.34 L320.46 1134.21 L318.5 1142.05 L317.52 1144.01 L316.54 1094.01 L315.07 1083.23 L313.11 1094.01 L311.15 1097.93 L309.19 1099.89 L307.23 1113.62 L304.29 1123.42 L302.33 1130.28 L301.35 1129.3 L299.39 1123.42 L297.43 1137.15 L295.95 1147.93 L294.48 1146.95 L292.52 1135.19 L290.56 1131.26 L289.07 1136.49 L286.44 1138.59 L284.34 1149.09 L281.19 1152.24 L276.99 1153.29 L274.89 1163.79 L272.79 1171.14 L270.69 1182.69 L268.6 1195.29 L266.5 1199.49 L263.35 1203.69 L261.25 1207.89 L259.15 1216.28 L253.9 1220.48 L249.7 1224.68 L246.55 1230.98 L244.45 1239.38 L236.05 1238.33 L235.35 1243.77 L233.23 1247.16 L229.84 1249.7 L225.61 1252.24 L223.07 1251.39 L221.37 1248.85 L217.99 1248.85 L214.6 1250.55 L211.21 1253.93 L208.67 1253.09 L206.13 1252.24 L204.44 1257.32 L201.9 1260.28 L198.51 1259.86 L195.97 1258.17 L192.58 1257.32 L190.89 1255.63 L187.5 1256.47 L184.12 1259.01 L182.42 1258.17 L180.73 1254.78 L177.34 1253.93 L175.65 1256.47 L173.96 1259.86 L171.42 1261.55 L168.88 1264.94 L164.64 1262.4 L162.95 1259.01 L160.41 1252.24 L158.72 1245.47 L156.18 1247.16 L154.9 1251.39 L153.63 1248.85 L151.94 1243.77 L149.4 1242.93 L145.17 1242.08 L141.78 1238.69 L139.2 1231.92Z" fill="#c0c0c0" stroke="none"/>
<path d="M139.2 1230.22 L140.09 1237 L141.36 1237.84 L143.05 1235.3 L144.32 1233.61 L145.59 1240.38 L146.86 1241.23 L148.55 1239.96 L150.25 1241.65 L151.52 1242.08 L152.79 1239.11 L154.06 1239.54 L154.65 1243.35 L155.33 1237.84 L156.6 1238.69 L158.29 1236.57 L159.56 1239.54 L161.26 1244.62 L163.37 1248.01 L164.64 1253.09 L166.76 1255.2 L168.88 1256.9 L170.57 1255.2 L171.84 1253.09 L173.53 1253.93 L175.23 1250.55 L176.92 1249.28 L178.61 1250.55 L179.88 1248.85 L181.58 1248.01 L183.27 1254.36 L185.39 1251.82 L187.5 1250.55 L189.2 1249.7 L190.89 1251.39 L192.58 1252.24 L195.13 1248.85 L196.82 1251.82 L198.94 1253.09 L200.21 1252.24 L202.32 1253.51 L204.02 1250.55 L205.29 1242.93 L206.56 1237.84 L207.83 1240.38 L209.52 1243.77 L211.21 1246.74 L212.91 1245.89 L214.6 1242.93 L215.87 1244.62 L217.14 1244.62 L219.26 1243.35 L221.37 1242.08 L223.07 1239.54 L224.76 1238.69 L226.45 1237.84 L228.15 1236.15 L229.84 1234.46 L231.96 1232.34 L234.08 1230.22 L235 1227.83 L236.05 1215.23 L237.1 1202.64 L238.67 1215.23 L240.25 1222.06 L241.82 1213.14 L243.4 1223.11 L244.45 1220.48 L246.02 1213.14 L247.6 1209.99 L249.7 1208.94 L251.8 1206.84 L253.9 1202.64 L256 1198.44 L258.62 1194.76 L259.67 1191.09 L260.72 1184.79 L261.77 1176.39 L263.35 1178.49 L264.92 1171.14 L266.5 1166.94 L268.07 1170.09 L269.12 1162.74 L270.17 1156.44 L271.22 1152.24 L272.79 1149.09 L273.84 1145.94 L274.89 1138.59 L275.94 1128.1 L278.04 1130.2 L280.14 1130.2 L282.24 1132.3 L284.34 1128.1 L285.92 1120.75 L287.49 1114.45 L289.07 1118.65 L290.07 1107.74 L291.05 1078.32 L291.54 1066.56 L292.52 1080.28 L293.5 1102.83 L294.48 1122.44 L295.27 1129.3 L296.45 1117.54 L298.41 1102.83 L300.37 1092.05 L301.35 1102.83 L302.33 1109.7 L304.29 1105.77 L306.25 1094.01 L307.72 1080.28 L308.7 1074.89 L310.17 1080.28 L311.15 1082.25 L313.11 1072.44 L314.58 1063.62 L315.56 1061.66 L316.54 1074.4 L317.52 1094.01 L318.01 1107.74 L319.48 1097.93 L320.46 1109.7 L321.45 1111.66 L322.92 1103.81 L324.39 1088.13 L325.86 1074.4 L327.82 1064.6 L329.78 1061.66 L331.74 1056.75 L333.7 1050.87 L335.17 1046.95 L336.15 1055.77 L337.13 1068.52 L338.6 1084.21 L340.07 1080.28 L342.52 1076.36 L344.48 1068.52 L346.94 1060.68 L348.9 1054.79 L351.35 1046.95 L353.31 1056.75 L354.78 1061.66 L355.76 1060.68 L357.23 1063.62 L359.19 1064.6 L361.15 1072.93 L363.11 1064.6 L365.07 1056.75 L367.03 1052.83 L368.99 1048.91 L370.95 1051.85 L372.92 1046.95 L374.88 1044.01 L376.84 1043.03 L378.31 1047.93 L379.78 1053.81 L381.74 1058.72 L382.32 1058.01 L384.57 1061.93 L386.81 1063.05 L389.05 1066.97 L390.73 1071.46 L391.85 1078.18 L392.97 1087.14 L394.65 1094.99 L396.33 1099.47 L397.45 1107.31 L399.69 1114.03 L402.49 1115.15 L404.73 1118.52 L408.1 1123 L410.34 1125.24 L412.02 1133.08 L413.7 1136.44 L415.94 1137.56 L418.18 1142.04 L420.98 1146.53 L422.66 1152.13 L424.9 1158.85 L427.14 1163.33 L430.5 1167.82 L431.62 1175.66 L433.31 1179.02 L436.11 1175.66 L438.91 1175.66 L440.59 1179.02 L442.83 1184.62 L445.07 1189.1 L448.33 1196.29 L451.9 1205.81 L455.48 1212.95 L459.05 1218.9 L463.81 1226.05 L468.57 1234.38 L470.36 1240.33 L472.14 1241.52 L474.52 1242.71 L475.71 1251.05 L476.9 1257 L478.69 1264.14 L479.29 1270.1 L479.88 1277.24 L481.07 1283.19 L482.86 1286.76 L485.24 1290.33 L486.43 1295.1 L487.02 1307 L487.62 1316.52 L488.81 1311.76 L490 1316.52 L491.19 1321.29 L492.38 1330.81 L493.57 1318.9 L494.76 1323.67 L496.55 1322.48 L498.33 1326.05 L499.52 1327.24 L500.71 1320.1 L501.9 1312.95 L503.1 1305.81 L504.29 1303.43 L505.24 1316.52 L506.07 1307 L507.26 1291.52 L508.45 1291.52 L510.24 1298.67 L511.43 1301.05 L513.21 1297.48 L515 1301.05 L517.38 1301.05 L519.76 1299.86 L521.55 1302.24 L522.74 1305.81 L524.52 1302.24 L526.9 1298.67 L529.29 1296.29 L531.67 1293.9 L534.05 1290.93 L536.43 1289.74 L540 1286.76 L542.03 1283.79 L545.6 1280.21 L549.18 1276.64 L552.75 1273.07 L556.32 1269.5 L558.7 1264.74 L562.27 1256.4 L564.65 1248.07 L567.03 1238.55 L568.22 1233.79 L569.41 1248.07 L570.6 1256.4 L571.8 1245.69 L572.99 1236.17 L574.18 1221.88 L575.37 1214.74 L576.56 1208.79 L578.94 1205.21 L582.51 1201.64 L586.08 1196.88 L588.46 1190.93 L589.65 1179.02 L590.84 1175.45 L593.22 1176.64 L594.41 1173.07 L595.6 1170.69 L597.99 1169.5 L599.77 1170.69 L602.15 1171.88 L603.94 1174.26 L605.13 1171.88 L606.32 1168.31 L608.7 1164.74 L611.08 1159.98 L612.87 1155.21 L614.65 1169.5 L616.44 1179.02 L617.03 1181.4 L618.22 1174.26 L620.6 1164.74 L622.99 1158.79 L624.18 1152.83 L626.56 1143.31 L628.94 1137.36 L631.32 1129.02 L632.63 1106.64 L633.82 1094.74 L635.01 1112.6 L636.8 1136.4 L637.99 1139.98 L639.77 1130.45 L641.56 1122.12 L643.34 1113.79 L645.13 1114.98 L646.91 1117.36 L648.7 1116.17 L650.49 1118.55 L652.27 1106.64 L654.06 1092.36 L655.84 1076.88 L657.03 1073.31 L658.22 1081.64 L660.01 1082.83 L661.8 1080.45 L664.18 1085.21 L666.56 1089.98 L669.53 1091.17 L670.72 1073.31 L671.32 1047.12 L672.27 1030.45 L673.1 1044.74 L674.3 1062.6 L676.08 1073.31 L677.27 1076.88 L678.46 1070.93 L679.65 1066.17 L680.84 1080.45 L682.03 1106.64 L682.63 1122.12 L684.41 1116.17 L686.8 1104.26 L689.18 1089.98 L690.96 1073.31 L692.15 1070.93 L693.34 1078.07 L695.13 1075.69 L697.51 1073.31 L699.3 1063.79 L700.49 1050.69 L702.27 1054.26 L703.46 1051.88 L705.25 1066.17 L707.03 1070.93 L708.82 1082.83 L710.6 1100.69 L712.39 1092.36 L714.18 1082.83 L715.96 1080.45 L717.75 1089.98 L718.94 1106.64 L720.13 1118.55 L721.91 1109.02 L723.7 1097.12 L724.41 1102.6 L726.8 1104.98 L729.18 1107.36 L731.56 1107.95 L733.94 1109.74 L736.32 1112.12 L738.7 1116.88 L741.08 1121.64 L744.06 1127.6 L745.25 1133.55 L747.03 1138.31 L749.41 1144.26 L751.8 1147.83 L752.99 1151.4 L754.18 1146.64 L755.37 1149.02 L756.56 1157.36 L757.75 1165.69 L760.13 1171.64 L762.51 1177.6 L764.89 1183.55 L768.46 1188.31 L770.25 1194.26 L772.03 1201.4 L773.82 1207.36 L775.6 1212.12 L777.99 1216.88 L780.37 1224.02 L781.56 1231.17 L782.14 1230.81 L784.52 1232 L786.9 1233.19 L788.69 1241.52 L790.48 1247.48 L792.86 1251.05 L795.24 1253.43 L797.62 1254.62 L800 1257 L802.38 1255.81 L805.95 1257 L808.33 1258.19 L810.71 1259.38 L812.5 1255.81 L813.33 1251.05 L814.88 1258.19 L816.67 1262.95 L819.05 1267.71 L821.43 1272.48 L823.81 1276.05 L826.19 1278.43 L827.98 1276.05 L829.17 1268.9 L830.36 1260.57 L831.55 1264.14 L833.33 1276.05 L835.12 1276.05 L836.9 1273.67 L838.69 1276.05 L840.48 1282 L842.26 1284.38 L844.05 1282 L846.43 1280.81 L847.62 1276.05 L848.81 1280.81 L850 1286.76 L851.19 1296.29 L852.38 1305.81 L853.57 1311.76 L854.76 1301.05 L857.14 1297.48 L859.52 1297.48 L861.31 1299.86 L863.1 1304.62 L864.29 1289.14 L865.48 1272.48 L867.26 1267.71 L869.64 1267.71 L870.83 1274.86 L872.62 1276.05 L875 1273.67 L875.71 1274.29 L878.1 1274.29 L880.48 1271.9 L882.86 1267.14 L885.24 1260 L886.43 1252.86 L888.81 1250.48 L891.19 1250.48 L892.98 1251.67 L894.76 1246.9 L897.14 1242.14 L898.93 1245.71 L900.71 1246.9 L903.1 1239.76 L905.48 1235 L907.86 1230.24 L909.64 1223.1 L910.83 1219.52 L912.02 1224.29 L913.21 1233.81 L915 1236.19 L916.19 1240.95 L917.38 1235 L918.57 1224.29 L919.76 1211.19 L920.95 1198.1 L921.55 1187.38 L922.14 1179.05 L923.33 1171.9 L925.71 1168.33 L926.9 1174.29 L928.1 1181.43 L929.29 1190.95 L930.48 1181.43 L931.67 1171.9 L932.86 1169.52 L934.64 1173.1 L936.43 1164.76 L937.62 1156.43 L938.81 1150.48 L940 1151.67 L941.79 1145.71 L943.57 1138.57 L945.95 1132.62 L948.33 1124.29 L949.52 1121.9 L950.71 1133.81 L951.9 1149.29 L953.1 1154.05 L954.88 1149.29 L956.67 1151.67 L957.86 1148.1 L959.64 1136.19 L960.83 1145.71 L962.02 1154.05 L963.21 1145.71 L964.41 1133.07 L966.8 1127.12 L967.99 1117.6 L969.18 1110.45 L970.96 1115.21 L972.75 1125.93 L973.94 1125.93 L975.13 1109.26 L976.32 1108.07 L977.51 1116.4 L979.3 1118.79 L981.08 1111.64 L983.46 1105.69 L985.84 1099.74 L988.22 1096.17 L990.6 1087.83 L992.99 1079.5 L995.37 1074.74 L997.75 1072.36 L999.53 1065.21 L1001.32 1060.45 L1003.1 1058.07 L1004.89 1053.31 L1006.08 1067.6 L1007.27 1093.79 L1008.46 1119.98 L1009.65 1097.36 L1010.84 1075.93 L1012.03 1058.07 L1013.22 1048.55 L1014.41 1064.02 L1015.6 1075.93 L1016.8 1092.6 L1017.99 1083.07 L1019.77 1065.21 L1021.56 1052.12 L1023.34 1042.6 L1025.72 1039.02 L1027.51 1046.17 L1029.3 1066.4 L1031.08 1065.21 L1033.46 1056.88 L1035.84 1049.74 L1037.63 1054.5 L1038.82 1075.93 L1040.01 1099.74 L1041.2 1114.02 L1042.39 1099.74 L1043.58 1079.5 L1044.77 1085.45 L1045.96 1094.98 L1047.75 1090.21 L1048 1087.83" fill="none" stroke="#000" stroke-width="1.3" stroke-linejoin="round"/>
<circle cx="486.3" cy="1330.8" r="4.3" fill="#808080" stroke="#000" stroke-width="1.35"/>
<circle cx="491.7" cy="1322.2" r="4.3" fill="#fff" stroke="#000" stroke-width="1.35"/>
<circle cx="496.3" cy="1324.2" r="4.3" fill="#fff" stroke="#000" stroke-width="1.35"/>
<circle cx="499.3" cy="1328.3" r="4.3" fill="#fff" stroke="#000" stroke-width="1.35"/>
<circle cx="502.9" cy="1323.7" r="4.3" fill="#fff" stroke="#000" stroke-width="1.35"/>
<circle cx="504.9" cy="1317.6" r="4.3" fill="#fff" stroke="#000" stroke-width="1.35"/>
<circle cx="506.5" cy="1313" r="4.3" fill="#fff" stroke="#000" stroke-width="1.35"/>
<circle cx="509" cy="1309" r="4.3" fill="#fff" stroke="#000" stroke-width="1.35"/>
<circle cx="512.6" cy="1317.6" r="4.3" fill="#fff" stroke="#000" stroke-width="1.35"/>
<circle cx="514.3" cy="1310.2" r="4.3" fill="#fff" stroke="#000" stroke-width="1.35"/>
<circle cx="516.6" cy="1319.6" r="4.3" fill="#fff" stroke="#000" stroke-width="1.35"/>
<circle cx="518.7" cy="1300.3" r="4.3" fill="#fff" stroke="#000" stroke-width="1.35"/>
<circle cx="523.5" cy="1310.5" r="4.3" fill="#fff" stroke="#000" stroke-width="1.35"/>
<circle cx="532.6" cy="1298.3" r="4.3" fill="#fff" stroke="#000" stroke-width="1.35"/>
<circle cx="490.5" cy="1331.2" r="4.3" fill="#fff" stroke="#000" stroke-width="1.35"/>
<circle cx="493.7" cy="1334.5" r="4.3" fill="#fff" stroke="#000" stroke-width="1.35"/>
<circle cx="496.4" cy="1336.9" r="4.3" fill="#fff" stroke="#000" stroke-width="1.35"/>
<circle cx="498.8" cy="1325.3" r="4.3" fill="#fff" stroke="#000" stroke-width="1.35"/>
<circle cx="503.9" cy="1323.3" r="4.3" fill="#fff" stroke="#000" stroke-width="1.35"/>
<circle cx="546" cy="1282.1" r="4.3" fill="#fff" stroke="#000" stroke-width="1.35"/>
<circle cx="555.2" cy="1268.2" r="4.3" fill="#fff" stroke="#000" stroke-width="1.35"/>
<circle cx="559" cy="1251.4" r="4.3" fill="#fff" stroke="#000" stroke-width="1.35"/>
<circle cx="569.5" cy="1250.6" r="4.3" fill="#fff" stroke="#000" stroke-width="1.35"/>
<circle cx="562.8" cy="1240.5" r="4.3" fill="#fff" stroke="#000" stroke-width="1.35"/>
<circle cx="579.6" cy="1217" r="4.3" fill="#fff" stroke="#000" stroke-width="1.35"/>
<circle cx="581.3" cy="1201" r="4.3" fill="#fff" stroke="#000" stroke-width="1.35"/>
<circle cx="583.7" cy="1191.5" r="4.3" fill="#fff" stroke="#000" stroke-width="1.35"/>
<circle cx="596.4" cy="1197.4" r="4.3" fill="#fff" stroke="#000" stroke-width="1.35"/>
<circle cx="592.7" cy="1176.2" r="4.3" fill="#fff" stroke="#000" stroke-width="1.35"/>
<circle cx="602.4" cy="1160" r="4.3" fill="#fff" stroke="#000" stroke-width="1.35"/>
<circle cx="618.1" cy="1152.4" r="4.3" fill="#fff" stroke="#000" stroke-width="1.35"/>
<circle cx="614.6" cy="1161.5" r="4.3" fill="#fff" stroke="#000" stroke-width="1.35"/>
<circle cx="622" cy="1142.2" r="4.3" fill="#fff" stroke="#000" stroke-width="1.35"/>
<circle cx="607" cy="1183.4" r="4.3" fill="#fff" stroke="#000" stroke-width="1.35"/>
<circle cx="610.5" cy="1176.7" r="4.3" fill="#fff" stroke="#000" stroke-width="1.35"/>
<circle cx="756.4" cy="1130.8" r="4.3" fill="#fff" stroke="#000" stroke-width="1.35"/>
<circle cx="753.3" cy="1134.5" r="4.3" fill="#fff" stroke="#000" stroke-width="1.35"/>
<circle cx="747.6" cy="1147.1" r="4.3" fill="#fff" stroke="#000" stroke-width="1.35"/>
<circle cx="743.8" cy="1153.4" r="4.3" fill="#fff" stroke="#000" stroke-width="1.35"/>
<circle cx="750.1" cy="1154.7" r="4.3" fill="#fff" stroke="#000" stroke-width="1.35"/>
<circle cx="764.6" cy="1163.5" r="4.3" fill="#fff" stroke="#000" stroke-width="1.35"/>
<circle cx="769" cy="1175.5" r="4.3" fill="#fff" stroke="#000" stroke-width="1.35"/>
<circle cx="772.3" cy="1203.7" r="4.3" fill="#fff" stroke="#000" stroke-width="1.35"/>
<circle cx="785.6" cy="1235.4" r="4.3" fill="#fff" stroke="#000" stroke-width="1.35"/>
<circle cx="795.1" cy="1251.8" r="4.3" fill="#fff" stroke="#000" stroke-width="1.35"/>
<circle cx="808.7" cy="1264.4" r="4.3" fill="#fff" stroke="#000" stroke-width="1.35"/>
<circle cx="821.3" cy="1277.2" r="4.3" fill="#fff" stroke="#000" stroke-width="1.35"/>
<circle cx="818.2" cy="1287.1" r="4.3" fill="#fff" stroke="#000" stroke-width="1.35"/>
<circle cx="831.8" cy="1296.3" r="4.3" fill="#fff" stroke="#000" stroke-width="1.35"/>
<circle cx="840.6" cy="1297.2" r="4.3" fill="#fff" stroke="#000" stroke-width="1.35"/>
<circle cx="826.4" cy="1303.5" r="4.3" fill="#fff" stroke="#000" stroke-width="1.35"/>
<circle cx="836.5" cy="1305.4" r="4.3" fill="#fff" stroke="#000" stroke-width="1.35"/>
<circle cx="846" cy="1310.7" r="4.3" fill="#fff" stroke="#000" stroke-width="1.35"/>
<circle cx="881.3" cy="1299.2" r="4.3" fill="#fff" stroke="#000" stroke-width="1.35"/>
<circle cx="877.8" cy="1314" r="4.3" fill="#fff" stroke="#000" stroke-width="1.35"/>
<circle cx="868.4" cy="1328.5" r="4.3" fill="#fff" stroke="#000" stroke-width="1.35"/>
<circle cx="858.3" cy="1340.5" r="4.3" fill="#fff" stroke="#000" stroke-width="1.35"/>
<circle cx="853.9" cy="1358.8" r="4.3" fill="#fff" stroke="#000" stroke-width="1.35"/>
<circle cx="917.6" cy="1218.5" r="4.3" fill="#fff" stroke="#000" stroke-width="1.35"/>
<circle cx="564.5" cy="1254.4" r="4.3" fill="#808080" stroke="#000" stroke-width="1.35"/>
<circle cx="575.4" cy="1243.4" r="4.3" fill="#808080" stroke="#000" stroke-width="1.35"/>
<circle cx="567" cy="1235.9" r="4.3" fill="#808080" stroke="#000" stroke-width="1.35"/>
<circle cx="569.5" cy="1228.7" r="4.3" fill="#808080" stroke="#000" stroke-width="1.35"/>
<circle cx="573.3" cy="1220.8" r="4.3" fill="#808080" stroke="#000" stroke-width="1.35"/>
<circle cx="585.5" cy="1217" r="4.3" fill="#808080" stroke="#000" stroke-width="1.35"/>
<circle cx="580.4" cy="1233.8" r="4.3" fill="#808080" stroke="#000" stroke-width="1.35"/>
<circle cx="583.8" cy="1230.4" r="4.3" fill="#808080" stroke="#000" stroke-width="1.35"/>
<circle cx="588.8" cy="1196.4" r="4.3" fill="#808080" stroke="#000" stroke-width="1.35"/>
<circle cx="591.3" cy="1202.3" r="4.3" fill="#808080" stroke="#000" stroke-width="1.35"/>
<circle cx="597.2" cy="1191.8" r="4.3" fill="#808080" stroke="#000" stroke-width="1.35"/>
<circle cx="593.9" cy="1185" r="4.3" fill="#808080" stroke="#000" stroke-width="1.35"/>
<circle cx="598.9" cy="1185" r="4.3" fill="#808080" stroke="#000" stroke-width="1.35"/>
<circle cx="589.7" cy="1196.6" r="4.3" fill="#808080" stroke="#000" stroke-width="1.35"/>
<circle cx="591.2" cy="1185.9" r="4.3" fill="#808080" stroke="#000" stroke-width="1.35"/>
<circle cx="595.8" cy="1183.4" r="4.3" fill="#808080" stroke="#000" stroke-width="1.35"/>
<circle cx="600.4" cy="1185.4" r="4.3" fill="#808080" stroke="#000" stroke-width="1.35"/>
<circle cx="598.8" cy="1191.5" r="4.3" fill="#808080" stroke="#000" stroke-width="1.35"/>
<circle cx="601.4" cy="1177.8" r="4.3" fill="#808080" stroke="#000" stroke-width="1.35"/>
<circle cx="605.4" cy="1174.2" r="4.3" fill="#808080" stroke="#000" stroke-width="1.35"/>
<circle cx="603.4" cy="1164.6" r="4.3" fill="#808080" stroke="#000" stroke-width="1.35"/>
<circle cx="609.5" cy="1158" r="4.3" fill="#808080" stroke="#000" stroke-width="1.35"/>
<circle cx="611" cy="1171.2" r="4.3" fill="#808080" stroke="#000" stroke-width="1.35"/>
<circle cx="618.1" cy="1171.7" r="4.3" fill="#808080" stroke="#000" stroke-width="1.35"/>
<circle cx="622.7" cy="1168.1" r="4.3" fill="#808080" stroke="#000" stroke-width="1.35"/>
<circle cx="617.1" cy="1180.8" r="4.3" fill="#808080" stroke="#000" stroke-width="1.35"/>
<circle cx="613.6" cy="1187.4" r="4.3" fill="#808080" stroke="#000" stroke-width="1.35"/>
<circle cx="622.7" cy="1159" r="4.3" fill="#808080" stroke="#000" stroke-width="1.35"/>
<circle cx="629.3" cy="1160.5" r="4.3" fill="#808080" stroke="#000" stroke-width="1.35"/>
<circle cx="631.4" cy="1153.9" r="4.3" fill="#808080" stroke="#000" stroke-width="1.35"/>
<circle cx="626.8" cy="1142.2" r="4.3" fill="#808080" stroke="#000" stroke-width="1.35"/>
<circle cx="631.9" cy="1143.7" r="4.3" fill="#808080" stroke="#000" stroke-width="1.35"/>
<circle cx="635.9" cy="1143.2" r="4.3" fill="#808080" stroke="#000" stroke-width="1.35"/>
<circle cx="630.6" cy="1145.1" r="4.3" fill="#808080" stroke="#000" stroke-width="1.35"/>
<circle cx="634.4" cy="1144.6" r="4.3" fill="#808080" stroke="#000" stroke-width="1.35"/>
<circle cx="638.1" cy="1142.3" r="4.3" fill="#808080" stroke="#000" stroke-width="1.35"/>
<circle cx="639" cy="1146" r="4.3" fill="#808080" stroke="#000" stroke-width="1.35"/>
<circle cx="644.6" cy="1148.3" r="4.3" fill="#808080" stroke="#000" stroke-width="1.35"/>
<circle cx="651.6" cy="1146.9" r="4.3" fill="#808080" stroke="#000" stroke-width="1.35"/>
<circle cx="649.7" cy="1136.7" r="4.3" fill="#808080" stroke="#000" stroke-width="1.35"/>
<circle cx="642.3" cy="1130.2" r="4.3" fill="#808080" stroke="#000" stroke-width="1.35"/>
<circle cx="629.7" cy="1158.6" r="4.3" fill="#808080" stroke="#000" stroke-width="1.35"/>
<circle cx="753.9" cy="1158.5" r="4.3" fill="#808080" stroke="#000" stroke-width="1.35"/>
<circle cx="758.6" cy="1160.4" r="4.3" fill="#808080" stroke="#000" stroke-width="1.35"/>
<circle cx="759.6" cy="1169.8" r="4.3" fill="#808080" stroke="#000" stroke-width="1.35"/>
<circle cx="762.1" cy="1173.3" r="4.3" fill="#808080" stroke="#000" stroke-width="1.35"/>
<circle cx="764.6" cy="1179.3" r="4.3" fill="#808080" stroke="#000" stroke-width="1.35"/>
<circle cx="765.2" cy="1195.6" r="4.3" fill="#808080" stroke="#000" stroke-width="1.35"/>
<circle cx="770.9" cy="1195.2" r="4.3" fill="#808080" stroke="#000" stroke-width="1.35"/>
<circle cx="774.9" cy="1214.6" r="4.3" fill="#808080" stroke="#000" stroke-width="1.35"/>
<circle cx="780" cy="1226.5" r="4.3" fill="#808080" stroke="#000" stroke-width="1.35"/>
<circle cx="783.7" cy="1239.1" r="4.3" fill="#808080" stroke="#000" stroke-width="1.35"/>
<circle cx="787.8" cy="1243.6" r="4.3" fill="#808080" stroke="#000" stroke-width="1.35"/>
<circle cx="793.2" cy="1246.1" r="4.3" fill="#808080" stroke="#000" stroke-width="1.35"/>
<circle cx="811.8" cy="1251.4" r="4.3" fill="#808080" stroke="#000" stroke-width="1.35"/>
<circle cx="794.9" cy="1266.3" r="4.3" fill="#808080" stroke="#000" stroke-width="1.35"/>
<circle cx="800.6" cy="1272" r="4.3" fill="#808080" stroke="#000" stroke-width="1.35"/>
<circle cx="806.3" cy="1273.9" r="4.3" fill="#808080" stroke="#000" stroke-width="1.35"/>
<circle cx="796.2" cy="1276.4" r="4.3" fill="#808080" stroke="#000" stroke-width="1.35"/>
<circle cx="800.6" cy="1278.3" r="4.3" fill="#808080" stroke="#000" stroke-width="1.35"/>
<circle cx="807.8" cy="1278.6" r="4.3" fill="#808080" stroke="#000" stroke-width="1.35"/>
<circle cx="809.4" cy="1288.4" r="4.3" fill="#808080" stroke="#000" stroke-width="1.35"/>
<circle cx="803.8" cy="1291.5" r="4.3" fill="#808080" stroke="#000" stroke-width="1.35"/>
<circle cx="815.1" cy="1295.3" r="4.3" fill="#808080" stroke="#000" stroke-width="1.35"/>
<circle cx="820.1" cy="1296.9" r="4.3" fill="#808080" stroke="#000" stroke-width="1.35"/>
<circle cx="825.2" cy="1294.4" r="4.3" fill="#808080" stroke="#000" stroke-width="1.35"/>
<circle cx="829.6" cy="1288.4" r="4.3" fill="#808080" stroke="#000" stroke-width="1.35"/>
<circle cx="833.4" cy="1309.2" r="4.3" fill="#808080" stroke="#000" stroke-width="1.35"/>
<circle cx="838.4" cy="1310.5" r="4.3" fill="#808080" stroke="#000" stroke-width="1.35"/>
<circle cx="842.8" cy="1318.6" r="4.3" fill="#808080" stroke="#000" stroke-width="1.35"/>
<circle cx="846.6" cy="1331.2" r="4.3" fill="#808080" stroke="#000" stroke-width="1.35"/>
<circle cx="852" cy="1332.3" r="4.3" fill="#808080" stroke="#000" stroke-width="1.35"/>
<circle cx="856.7" cy="1335.8" r="4.3" fill="#808080" stroke="#000" stroke-width="1.35"/>
<circle cx="861.5" cy="1330.1" r="4.3" fill="#808080" stroke="#000" stroke-width="1.35"/>
<circle cx="865.6" cy="1321.3" r="4.3" fill="#808080" stroke="#000" stroke-width="1.35"/>
<circle cx="870" cy="1314.7" r="4.3" fill="#808080" stroke="#000" stroke-width="1.35"/>
<circle cx="874.7" cy="1309.3" r="4.3" fill="#808080" stroke="#000" stroke-width="1.35"/>
<circle cx="879.7" cy="1305.2" r="4.3" fill="#808080" stroke="#000" stroke-width="1.35"/>
<circle cx="888.9" cy="1262.2" r="4.3" fill="#808080" stroke="#000" stroke-width="1.35"/>
<circle cx="884" cy="1269.2" r="4.3" fill="#808080" stroke="#000" stroke-width="1.35"/>
<circle cx="923.9" cy="1194.9" r="4.3" fill="#808080" stroke="#000" stroke-width="1.35"/>
<path d="M139.2 1220.91 L139.66 1226.84 L140.93 1231.92 L142.63 1230.22 L144.15 1226.84 L145.17 1233.61 L146.44 1237 L148.55 1236.15 L150.67 1237 L152.36 1234.46 L153.63 1235.3 L155.33 1231.92 L157.02 1232.76 L158.29 1229.38 L159.99 1232.76 L161.68 1237 L163.37 1238.69 L165.07 1244.62 L167.18 1247.16 L168.88 1249.7 L170.99 1246.31 L172.26 1245.47 L174.38 1247.58 L175.65 1244.62 L177.34 1242.08 L179.04 1245.47 L180.31 1244.2 L182 1242.93 L183.27 1249.7 L184.96 1247.58 L187.08 1245.47 L188.77 1244.62 L190.89 1245.89 L192.58 1246.31 L195.13 1244.62 L196.4 1248.01 L198.51 1249.7 L201.05 1250.12 L202.82 1250.82 L204.86 1243.77 L206.13 1235.3 L207.83 1237.84 L209.52 1242.08 L211.75 1246.02 L212.11 1245.47 L214.6 1240.38 L216.57 1244.06 L217.89 1243.22 L219.14 1242.37 L220.78 1241.4 L222.85 1238.66 L224.76 1241.23 L226.45 1241.23 L228.15 1239.54 L229.84 1237.42 L232.38 1234.46 L234.11 1227.67 L235.15 1215.16 L237.1 1200.54 L239.56 1215.09 L239.53 1221.52 L241.82 1209.99 L243.4 1220.48 L244.45 1218.38 L246.02 1211.04 L246.96 1209.35 L249.16 1208.22 L251.07 1206.31 L253.1 1202.21 L255.22 1197.97 L257.82 1194.36 L258.79 1190.92 L260.72 1182.69 L261.77 1174.29 L263.35 1176.39 L264.05 1170.9 L266.5 1164.84 L268.07 1167.99 L268.23 1162.59 L269.29 1156.27 L270.37 1151.94 L271.96 1148.75 L272.96 1145.77 L274 1138.49 L275.1 1127.78 L278.52 1129.43 L280.62 1129.43 L281.84 1131.49 L283.48 1127.83 L285.04 1120.55 L286.99 1113.7 L288.19 1118.43 L290.07 1102.83 L291.05 1072.44 L292.03 1088.13 L293.5 1107.74 L295.38 1122.36 L295.27 1127.34 L297.43 1112.64 L298.49 1097.32 L301.17 1091.65 L301.84 1102.83 L303.31 1105.77 L305.27 1097.93 L307.23 1083.23 L307.96 1074.38 L310.66 1078.32 L312.13 1074.4 L313.22 1066.34 L316.45 1061.49 L317.03 1082.25 L317.52 1117.54 L318.01 1124.4 L319.48 1099.89 L320.95 1105.77 L322.92 1097.93 L324.88 1080.28 L326.84 1064.6 L329.78 1056.75 L332.72 1049.89 L334.68 1042.05 L335.66 1043.03 L337.13 1061.66 L338.6 1078.32 L340.56 1074.4 L342.52 1065.58 L344.48 1058.72 L347.43 1050.87 L351.35 1039.11 L352.82 1048.91 L354.29 1051.85 L355.76 1052.83 L357.23 1053.81 L359.19 1056.75 L361.15 1064.6 L363.11 1058.72 L365.07 1048.91 L368.01 1040.09 L369.97 1042.05 L371.94 1041.07 L373.9 1037.15 L376.35 1034.21 L378.31 1038.13 L380.76 1045.97 L381.2 1047.93 L383.45 1052.41 L385.69 1054.09 L388.49 1056.89 L390.73 1062.49 L392.41 1070.34 L393.53 1077.06 L395.21 1084.9 L396.89 1092.75 L398.01 1101.71 L400.25 1106.19 L402.49 1107.31 L405.85 1110.67 L409.22 1115.15 L411.46 1120.76 L412.58 1126.36 L414.82 1126.36 L417.06 1127.48 L419.3 1137.56 L421.54 1140.92 L423.78 1147.65 L426.02 1152.13 L428.26 1155.49 L431.06 1157.73 L432.18 1167.82 L433.87 1170.06 L436.67 1167.82 L439.47 1171.18 L442.83 1177.9 L447.31 1185.74 L448.33 1191.52 L451.9 1201.05 L455.48 1209.38 L459.84 1218.48 L464.53 1225.51 L469.76 1232 L473.93 1236.76 L475.71 1245.1 L478.1 1254.62 L479.88 1271.29 L481.67 1274.86 L485.24 1280.81 L487.02 1295.1 L488.62 1313.34 L489.4 1296.29 L491.19 1308.19 L492.38 1312.95 L493.57 1296.29 L494.76 1312.95 L496.55 1310.57 L498.33 1312.95 L500.12 1317.71 L501.31 1308.19 L503.1 1298.67 L504.29 1293.9 L505.48 1307 L506.67 1287.95 L507.86 1279.62 L510.24 1286.76 L512.62 1286.76 L515 1290.33 L517.38 1289.14 L519.76 1291.52 L522.14 1295.1 L523.93 1297.48 L525.71 1291.52 L528.1 1289.14 L530.48 1286.76 L532.86 1283.19 L535.24 1283.19 L537.62 1282 L540 1280.81 L543.22 1276.64 L547.99 1273.07 L552.75 1268.31 L557.51 1262.36 L561.08 1254.02 L564.65 1245.69 L567.03 1236.17 L568.22 1231.4 L569.41 1250.45 L569.73 1256.19 L571.8 1240.93 L572.99 1232.6 L573.88 1218.22 L575.96 1202.83 L577.75 1200.45 L581.32 1195.69 L584.89 1190.93 L587.87 1187.36 L589.65 1176.64 L590.84 1169.5 L593.22 1168.31 L595.6 1164.74 L597.99 1163.55 L600.37 1164.74 L602.75 1165.93 L605.13 1163.55 L607.51 1159.98 L609.89 1156.4 L612.27 1150.45 L613.22 1148.07 L614.65 1164.74 L617.27 1178.68 L617.63 1171.88 L619.41 1163.55 L621.8 1155.21 L624.18 1149.26 L626.56 1139.74 L628.94 1133.79 L631.32 1126.64 L632.63 1100.69 L633.82 1086.4 L635.01 1106.64 L636.8 1130.45 L637.99 1136.4 L640.37 1124.5 L642.75 1109.02 L643.94 1106.64 L645.72 1111.4 L647.51 1109.02 L649.3 1110.21 L651.08 1104.26 L653.46 1086.4 L655.25 1070.93 L656.44 1064.98 L658.22 1073.31 L660.01 1075.69 L661.8 1070.93 L664.18 1076.88 L666.56 1082.83 L669.53 1084.02 L670.72 1059.02 L671.91 1029.26 L672.51 1018.55 L673.7 1047.12 L675.49 1061.4 L677.27 1066.17 L679.06 1059.02 L680.25 1056.64 L681.44 1082.83 L682.63 1113.79 L684.41 1106.64 L686.8 1094.74 L689.18 1080.45 L690.96 1064.98 L691.8 1057.83 L693.34 1066.17 L695.13 1062.6 L697.51 1060.21 L698.7 1053.07 L700.49 1037.6 L702.27 1039.98 L703.7 1042.36 L705.84 1053.07 L708.22 1066.17 L710.6 1088.79 L712.39 1080.45 L714.18 1075.69 L715.96 1074.5 L717.75 1082.83 L718.94 1100.69 L720.13 1113.79 L721.91 1094.74 L723.1 1088.79 L724.41 1094.26 L727.99 1097.83 L731.56 1100.21 L735.13 1103.79 L737.51 1108.55 L739.3 1114.5 L741.68 1116.88 L744.06 1122.83 L745.84 1131.17 L748.22 1135.93 L750.6 1139.5 L752.99 1143.07 L754.77 1145.45 L756.56 1151.4 L758.34 1158.55 L760.72 1162.12 L763.7 1169.26 L766.08 1174.02 L768.46 1178.79 L770.25 1185.93 L772.03 1193.07 L773.82 1200.21 L775.01 1206.17 L776.8 1208.55 L778.58 1212.12 L780.37 1218.07 L782.14 1226.05 L784.52 1224.86 L786.9 1224.86 L788.69 1235.57 L790.48 1240.33 L792.86 1242.71 L795.24 1243.9 L798.21 1246.29 L800.6 1243.9 L802.38 1246.29 L805.95 1247.48 L808.33 1248.07 L810.71 1248.67 L812.5 1243.9 L813.33 1242.71 L814.88 1249.86 L816.67 1253.43 L819.05 1258.19 L821.43 1261.76 L823.81 1265.33 L826.19 1267.71 L827.98 1266.52 L829.76 1255.81 L830.71 1251.05 L832.14 1260.57 L833.93 1266.52 L835.71 1265.33 L838.1 1264.14 L839.88 1267.71 L841.67 1273.67 L843.45 1273.67 L845.83 1271.29 L847.62 1267.71 L848.81 1273.67 L850 1264.14 L850.6 1279.62 L851.19 1289.14 L852.38 1296.29 L853.57 1299.86 L854.76 1295.1 L857.14 1291.52 L859.52 1291.52 L861.31 1295.1 L863.1 1299.86 L864.29 1286.76 L865.48 1266.52 L867.26 1264.14 L869.64 1264.14 L870.83 1271.29 L872.62 1270.1 L875 1270.1 L876.36 1273.66 L877.69 1273.48 L879.73 1271.41 L882.02 1266.81 L884.36 1259.78 L885.59 1252.54 L888.41 1249.67 L891.44 1249.61 L892.34 1251.03 L893.94 1246.54 L896.9 1241.28 L899.65 1245.17 L899.98 1246.39 L902.26 1239.43 L904.67 1234.6 L907.01 1229.94 L908.78 1222.85 L911.24 1218.72 L912.91 1224.14 L914.09 1233.59 L915.83 1235.84 L915.79 1240.15 L916.49 1234.87 L917.68 1224.2 L918.87 1211.11 L920.05 1198.03 L920.65 1187.32 L921.25 1178.94 L922.48 1171.62 L926.21 1167.58 L927.79 1174.12 L928.99 1181.3 L929.29 1190.05 L929.58 1181.32 L930.78 1171.73 L933.19 1168.69 L933.92 1172.56 L935.54 1164.6 L936.73 1156.28 L938 1150.07 L939.24 1151.19 L940.92 1145.48 L942.71 1138.3 L945.1 1132.33 L947.48 1124 L950.4 1121.69 L951.61 1133.73 L952.8 1149.18 L953.1 1153.15 L954.38 1148.54 L956.33 1150.83 L956.97 1147.93 L959.08 1135.49 L961.73 1145.6 L962.02 1153.15 L962.32 1145.62 L964.41 1130.69 L966.8 1123.55 L967.99 1115.21 L969.18 1106.88 L970.96 1111.64 L972.75 1123.55 L973.94 1123.55 L975.13 1103.31 L976.32 1104.5 L977.51 1114.02 L979.3 1116.4 L981.08 1109.26 L983.46 1102.12 L985.84 1096.17 L988.22 1092.6 L990.6 1083.07 L992.99 1073.55 L995.37 1068.79 L997.75 1066.4 L999.53 1058.07 L1001.32 1052.12 L1003.1 1054.5 L1004.89 1044.98 L1006.08 1058.07 L1007.27 1087.83 L1008.46 1109.26 L1009.65 1087.83 L1010.84 1064.02 L1012.03 1049.74 L1013.22 1036.64 L1014.41 1054.5 L1015.6 1066.4 L1016.8 1081.88 L1017.99 1075.93 L1019.77 1055.69 L1021.56 1044.98 L1023.34 1034.26 L1025.72 1029.5 L1027.51 1037.83 L1029.3 1055.69 L1031.08 1056.88 L1033.46 1046.17 L1035.84 1041.4 L1037.63 1044.98 L1038.82 1071.17 L1040.01 1094.98 L1041.2 1109.26 L1042.39 1087.83 L1043.58 1071.17 L1044.77 1075.93 L1045.96 1087.83 L1047.75 1081.88 L1048 1075.93" fill="none" stroke="#0000ff" stroke-width="0.6" stroke-linejoin="round"/>
<path d="M138.4 954.4 V1377" stroke="#000" stroke-width="1.6"/>
<path d="M1048.8 954.4 V1377.6" stroke="#000" stroke-width="1.6"/>
<path d="M130.7 1377 H1049.6" stroke="#000" stroke-width="1.4"/>
<path d="M130.7 955 H138.4" stroke="#000" stroke-width="1.3"/>
<text transform="translate(121.8 961.6) scale(1 1.06)" font-size="18.5" text-anchor="end">-1.0</text>
<path d="M130.7 997.2 H138.4" stroke="#000" stroke-width="1.3"/>
<text transform="translate(121.8 1003.8) scale(1 1.06)" font-size="18.5" text-anchor="end">-0.5</text>
<path d="M130.7 1039.4 H138.4" stroke="#000" stroke-width="1.3"/>
<text transform="translate(121.8 1046) scale(1 1.06)" font-size="18.5" text-anchor="end">0.0</text>
<path d="M130.7 1081.6 H138.4" stroke="#000" stroke-width="1.3"/>
<text transform="translate(121.8 1088.2) scale(1 1.06)" font-size="18.5" text-anchor="end">0.5</text>
<path d="M130.7 1123.8 H138.4" stroke="#000" stroke-width="1.3"/>
<text transform="translate(121.8 1130.4) scale(1 1.06)" font-size="18.5" text-anchor="end">1.0</text>
<path d="M130.7 1166 H138.4" stroke="#000" stroke-width="1.3"/>
<text transform="translate(121.8 1172.6) scale(1 1.06)" font-size="18.5" text-anchor="end">1.5</text>
<path d="M130.7 1208.2 H138.4" stroke="#000" stroke-width="1.3"/>
<text transform="translate(121.8 1214.8) scale(1 1.06)" font-size="18.5" text-anchor="end">2.0</text>
<path d="M130.7 1250.4 H138.4" stroke="#000" stroke-width="1.3"/>
<text transform="translate(121.8 1257) scale(1 1.06)" font-size="18.5" text-anchor="end">2.5</text>
<path d="M130.7 1292.6 H138.4" stroke="#000" stroke-width="1.3"/>
<text transform="translate(121.8 1299.2) scale(1 1.06)" font-size="18.5" text-anchor="end">3.0</text>
<path d="M130.7 1334.8 H138.4" stroke="#000" stroke-width="1.3"/>
<text transform="translate(121.8 1341.4) scale(1 1.06)" font-size="18.5" text-anchor="end">3.5</text>
<path d="M130.7 1377 H138.4" stroke="#000" stroke-width="1.3"/>
<text transform="translate(121.8 1383.6) scale(1 1.06)" font-size="18.5" text-anchor="end">4.0</text>
<path d="M1048.8 955 H1056.3" stroke="#000" stroke-width="1.3"/>
<text transform="translate(1064.3 961.6) scale(1 1.05)" font-size="19" fill="#0000ff">26</text>
<path d="M1048.8 995.22 H1056.3" stroke="#000" stroke-width="1.3"/>
<text transform="translate(1064.3 1001.82) scale(1 1.05)" font-size="19" fill="#0000ff">24</text>
<path d="M1048.8 1035.44 H1056.3" stroke="#000" stroke-width="1.3"/>
<text transform="translate(1064.3 1042.04) scale(1 1.05)" font-size="19" fill="#0000ff">22</text>
<path d="M1048.8 1075.66 H1056.3" stroke="#000" stroke-width="1.3"/>
<text transform="translate(1064.3 1082.26) scale(1 1.05)" font-size="19" fill="#0000ff">20</text>
<path d="M1048.8 1115.88 H1056.3" stroke="#000" stroke-width="1.3"/>
<text transform="translate(1064.3 1122.48) scale(1 1.05)" font-size="19" fill="#0000ff">18</text>
<path d="M1048.8 1156.1 H1056.3" stroke="#000" stroke-width="1.3"/>
<text transform="translate(1064.3 1162.7) scale(1 1.05)" font-size="19" fill="#0000ff">16</text>
<path d="M1048.8 1196.32 H1056.3" stroke="#000" stroke-width="1.3"/>
<text transform="translate(1064.3 1202.92) scale(1 1.05)" font-size="19" fill="#0000ff">14</text>
<path d="M1048.8 1236.54 H1056.3" stroke="#000" stroke-width="1.3"/>
<text transform="translate(1064.3 1243.14) scale(1 1.05)" font-size="19" fill="#0000ff">12</text>
<path d="M1048.8 1276.76 H1056.3" stroke="#000" stroke-width="1.3"/>
<text transform="translate(1064.3 1283.36) scale(1 1.05)" font-size="19" fill="#0000ff">10</text>
<path d="M1048.8 1316.98 H1056.3" stroke="#000" stroke-width="1.3"/>
<text transform="translate(1064.3 1323.58) scale(1 1.05)" font-size="19" fill="#0000ff">8</text>
<path d="M1048.8 1357.2 H1056.3" stroke="#000" stroke-width="1.3"/>
<text transform="translate(1064.3 1363.8) scale(1 1.05)" font-size="19" fill="#0000ff">6</text>
<path d="M138.4 1377 V1388.5" stroke="#000" stroke-width="2.8"/>
<path d="M165.99 1377 V1381.7" stroke="#000" stroke-width="1.3"/>
<path d="M193.58 1377 V1381.7" stroke="#000" stroke-width="1.3"/>
<path d="M221.16 1377 V1381.7" stroke="#000" stroke-width="1.3"/>
<path d="M248.75 1377 V1381.7" stroke="#000" stroke-width="1.3"/>
<path d="M276.34 1377 V1381.7" stroke="#000" stroke-width="1.3"/>
<path d="M303.93 1377 V1381.7" stroke="#000" stroke-width="1.3"/>
<path d="M331.52 1377 V1381.7" stroke="#000" stroke-width="1.3"/>
<path d="M359.1 1377 V1381.7" stroke="#000" stroke-width="1.3"/>
<path d="M386.69 1377 V1381.7" stroke="#000" stroke-width="1.3"/>
<path d="M414.28 1377 V1381.7" stroke="#000" stroke-width="1.3"/>
<path d="M441.87 1377 V1381.7" stroke="#000" stroke-width="1.3"/>
<path d="M469.45 1377 V1388.5" stroke="#000" stroke-width="2.8"/>
<path d="M497.04 1377 V1381.7" stroke="#000" stroke-width="1.3"/>
<path d="M524.63 1377 V1381.7" stroke="#000" stroke-width="1.3"/>
<path d="M552.22 1377 V1381.7" stroke="#000" stroke-width="1.3"/>
<path d="M579.81 1377 V1381.7" stroke="#000" stroke-width="1.3"/>
<path d="M607.39 1377 V1381.7" stroke="#000" stroke-width="1.3"/>
<path d="M634.98 1377 V1381.7" stroke="#000" stroke-width="1.3"/>
<path d="M662.57 1377 V1381.7" stroke="#000" stroke-width="1.3"/>
<path d="M690.16 1377 V1381.7" stroke="#000" stroke-width="1.3"/>
<path d="M717.75 1377 V1381.7" stroke="#000" stroke-width="1.3"/>
<path d="M745.33 1377 V1381.7" stroke="#000" stroke-width="1.3"/>
<path d="M772.92 1377 V1381.7" stroke="#000" stroke-width="1.3"/>
<path d="M800.51 1377 V1388.5" stroke="#000" stroke-width="2.8"/>
<path d="M828.1 1377 V1381.7" stroke="#000" stroke-width="1.3"/>
<path d="M855.68 1377 V1381.7" stroke="#000" stroke-width="1.3"/>
<path d="M883.27 1377 V1381.7" stroke="#000" stroke-width="1.3"/>
<path d="M910.86 1377 V1381.7" stroke="#000" stroke-width="1.3"/>
<path d="M938.45 1377 V1381.7" stroke="#000" stroke-width="1.3"/>
<path d="M966.04 1377 V1381.7" stroke="#000" stroke-width="1.3"/>
<path d="M993.62 1377 V1381.7" stroke="#000" stroke-width="1.3"/>
<path d="M1021.21 1377 V1381.7" stroke="#000" stroke-width="1.3"/>
<path d="M1048.8 1377 V1381.7" stroke="#000" stroke-width="1.3"/>
<text transform="translate(152.7 29.1) scale(1 1.03)" font-size="28.5" font-weight="bold">A</text>
<text transform="translate(153.5 487.2) scale(1 1.03)" font-size="28.5" font-weight="bold">B</text>
<text transform="translate(152.8 964) scale(1 1.03)" font-size="28.5" font-weight="bold">C</text>
<circle cx="305.2" cy="351.0" r="4.3" fill="#fff" stroke="#000" stroke-width="1.35"/>
<circle cx="305.2" cy="371.8" r="4.3" fill="#808080" stroke="#000" stroke-width="1.35"/>
<text transform="translate(337 357.9) scale(1 1.06)" font-size="18.7">PJ1</text>
<text transform="translate(337 378.8) scale(1 1.06)" font-size="18.7">PJ2</text>
<circle cx="248.3" cy="826.9" r="4.3" fill="#fff" stroke="#000" stroke-width="1.35"/>
<circle cx="248.3" cy="847.5" r="4.3" fill="#808080" stroke="#000" stroke-width="1.35"/>
<text transform="translate(280 832.9) scale(1 1.06)" font-size="18.7">AO1</text>
<text transform="translate(280 853.8) scale(1 1.06)" font-size="18.7">AO2</text>
<circle cx="196.05" cy="1313.7" r="4.3" fill="#fff" stroke="#000" stroke-width="1.35"/>
<circle cx="196.05" cy="1334.3" r="4.3" fill="#808080" stroke="#000" stroke-width="1.35"/>
<text transform="translate(227.9 1319.8) scale(1 1.06)" font-size="18.7">FG1</text>
<text transform="translate(227.9 1340.7) scale(1 1.06)" font-size="18.7">FG2</text>
<text transform="translate(337 1426.2) scale(1 1.04)" font-size="22.9" text-anchor="middle">2016</text>
<text transform="translate(628.3 1426.2) scale(1 1.04)" font-size="22.9" text-anchor="middle">2017</text>
<text transform="translate(957 1426.2) scale(1 1.04)" font-size="22.9" text-anchor="middle">2018</text>
<g transform="translate(33.4 814.0) rotate(-90) scale(1.03 1)"><text x="0" y="0" font-size="22" font-weight="bold"><tspan font-weight="normal">δ</tspan><tspan dy="-13" font-size="22">18</tspan><tspan dy="13">O</tspan><tspan dy="8.5">shell</tspan><tspan dy="-8.5"> (‰ VPDB)</tspan></text></g>
<g transform="translate(1174 766.4) rotate(-90) scale(1.032 1)"><text x="0" y="0" font-size="22" font-weight="bold" fill="#0000ff">Temperature (°C)</text></g>
</svg></body></html>
